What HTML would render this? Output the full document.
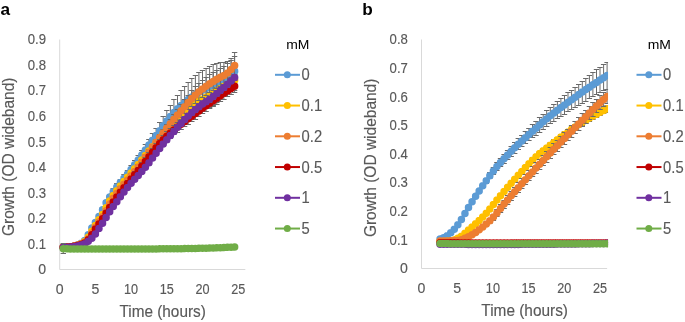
<!DOCTYPE html><html><head><meta charset="utf-8"><style>html,body{margin:0;padding:0;background:#fff;overflow:hidden}svg{display:block;will-change:transform}</style></head><body><svg width="685" height="322" viewBox="0 0 685 322">
<style>text{font-family:"Liberation Sans",sans-serif}.tk{font-size:14.1px;fill:#595959;stroke:#595959;stroke-width:0.15px}.lg{font-size:16.4px;fill:#595959;stroke:#595959;stroke-width:0.15px}.mm{font-size:12.2px;fill:#000}.tt{font-size:15.9px;fill:#595959;stroke:#595959;stroke-width:0.15px}.pl{font-size:17.2px;font-weight:bold;fill:#000}</style>
<rect width="685" height="322" fill="#fff"/>
<text x="0.6" y="14.9" class="pl">a</text>
<text x="362.2" y="14.9" class="pl">b</text>
<line x1="59.7" y1="39.5" x2="59.7" y2="269.5" stroke="#d9d9d9" stroke-width="1"/>
<line x1="59.7" y1="269.5" x2="245.33999999999997" y2="269.5" stroke="#d9d9d9" stroke-width="1"/>
<text x="46.1" y="274.30" text-anchor="end" class="tk">0</text>
<text x="46.1" y="248.74" text-anchor="end" class="tk" textLength="18.3" lengthAdjust="spacingAndGlyphs">0.1</text>
<text x="46.1" y="223.19" text-anchor="end" class="tk" textLength="18.3" lengthAdjust="spacingAndGlyphs">0.2</text>
<text x="46.1" y="197.63" text-anchor="end" class="tk" textLength="18.3" lengthAdjust="spacingAndGlyphs">0.3</text>
<text x="46.1" y="172.08" text-anchor="end" class="tk" textLength="18.3" lengthAdjust="spacingAndGlyphs">0.4</text>
<text x="46.1" y="146.52" text-anchor="end" class="tk" textLength="18.3" lengthAdjust="spacingAndGlyphs">0.5</text>
<text x="46.1" y="120.97" text-anchor="end" class="tk" textLength="18.3" lengthAdjust="spacingAndGlyphs">0.6</text>
<text x="46.1" y="95.41" text-anchor="end" class="tk" textLength="18.3" lengthAdjust="spacingAndGlyphs">0.7</text>
<text x="46.1" y="69.86" text-anchor="end" class="tk" textLength="18.3" lengthAdjust="spacingAndGlyphs">0.8</text>
<text x="46.1" y="44.30" text-anchor="end" class="tk" textLength="18.3" lengthAdjust="spacingAndGlyphs">0.9</text>
<text x="59.70" y="293.50" text-anchor="middle" class="tk">0</text>
<text x="95.40" y="293.50" text-anchor="middle" class="tk">5</text>
<text x="131.10" y="293.50" text-anchor="middle" class="tk" textLength="14.1" lengthAdjust="spacingAndGlyphs">10</text>
<text x="166.80" y="293.50" text-anchor="middle" class="tk" textLength="14.1" lengthAdjust="spacingAndGlyphs">15</text>
<text x="202.50" y="293.50" text-anchor="middle" class="tk" textLength="14.1" lengthAdjust="spacingAndGlyphs">20</text>
<text x="238.20" y="293.50" text-anchor="middle" class="tk" textLength="14.1" lengthAdjust="spacingAndGlyphs">25</text>
<clipPath id="c59"><rect x="49.7" y="0" width="196.54" height="300"/></clipPath>
<g clip-path="url(#c59)">
<path d="M63.3 246.5V248.5M60.6 246.5h5.4M60.6 248.5h5.4M66.8 246.5V248.5M64.1 246.5h5.4M64.1 248.5h5.4M70.4 245.5V247.5M67.7 245.5h5.4M67.7 247.5h5.4M74.0 244.5V247.5M71.3 244.5h5.4M71.3 247.5h5.4M77.5 243.5V246.5M74.8 243.5h5.4M74.8 246.5h5.4M81.1 241.5V244.5M78.4 241.5h5.4M78.4 244.5h5.4M84.7 238.5V242.5M82.0 238.5h5.4M82.0 242.5h5.4M88.3 233.5V236.5M85.6 233.5h5.4M85.6 236.5h5.4M91.8 226.5V229.5M89.1 226.5h5.4M89.1 229.5h5.4M95.4 220.5V224.5M92.7 220.5h5.4M92.7 224.5h5.4M99.0 214.5V218.5M96.3 214.5h5.4M96.3 218.5h5.4M102.5 207.5V212.5M99.8 207.5h5.4M99.8 212.5h5.4M106.1 200.5V205.5M103.4 200.5h5.4M103.4 205.5h5.4M109.7 194.5V199.5M107.0 194.5h5.4M107.0 199.5h5.4M113.2 188.5V194.5M110.5 188.5h5.4M110.5 194.5h5.4M116.8 183.5V190.5M114.1 183.5h5.4M114.1 190.5h5.4M120.4 179.5V185.5M117.7 179.5h5.4M117.7 185.5h5.4M124.0 174.5V181.5M121.3 174.5h5.4M121.3 181.5h5.4M127.5 170.5V177.5M124.8 170.5h5.4M124.8 177.5h5.4M131.1 165.5V173.5M128.4 165.5h5.4M128.4 173.5h5.4M134.7 160.5V169.5M132.0 160.5h5.4M132.0 169.5h5.4M138.2 155.5V164.5M135.5 155.5h5.4M135.5 164.5h5.4M141.8 150.5V160.5M139.1 150.5h5.4M139.1 160.5h5.4M145.4 144.5V155.5M142.7 144.5h5.4M142.7 155.5h5.4M148.9 139.5V150.5M146.2 139.5h5.4M146.2 150.5h5.4M152.5 133.5V146.5M149.8 133.5h5.4M149.8 146.5h5.4M156.1 128.5V142.5M153.4 128.5h5.4M153.4 142.5h5.4M159.7 122.5V138.5M157.0 122.5h5.4M157.0 138.5h5.4M163.2 116.5V134.5M160.5 116.5h5.4M160.5 134.5h5.4M166.8 110.5V131.5M164.1 110.5h5.4M164.1 131.5h5.4M170.4 105.5V127.5M167.7 105.5h5.4M167.7 127.5h5.4M173.9 99.5V124.5M171.2 99.5h5.4M171.2 124.5h5.4M177.5 95.5V122.5M174.8 95.5h5.4M174.8 122.5h5.4M181.1 90.5V120.5M178.4 90.5h5.4M178.4 120.5h5.4M184.6 86.5V118.5M181.9 86.5h5.4M181.9 118.5h5.4M188.2 82.5V116.5M185.5 82.5h5.4M185.5 116.5h5.4M191.8 78.5V115.5M189.1 78.5h5.4M189.1 115.5h5.4M195.4 75.5V113.5M192.7 75.5h5.4M192.7 113.5h5.4M198.9 72.5V111.5M196.2 72.5h5.4M196.2 111.5h5.4M202.5 70.5V110.5M199.8 70.5h5.4M199.8 110.5h5.4M206.1 68.5V108.5M203.4 68.5h5.4M203.4 108.5h5.4M209.6 66.5V107.5M206.9 66.5h5.4M206.9 107.5h5.4M213.2 64.5V105.5M210.5 64.5h5.4M210.5 105.5h5.4M216.8 63.5V102.5M214.1 63.5h5.4M214.1 102.5h5.4M220.4 62.5V99.5M217.7 62.5h5.4M217.7 99.5h5.4M223.9 62.5V94.5M221.2 62.5h5.4M221.2 94.5h5.4M227.5 61.5V91.5M224.8 61.5h5.4M224.8 91.5h5.4M231.1 58.5V88.5M228.4 58.5h5.4M228.4 88.5h5.4M234.6 52.5V90.5M231.9 52.5h5.4M231.9 90.5h5.4" stroke="#6a6a6a" stroke-width="1" fill="none"/>
<path d="M63.3 247.3 L66.8 247.1 L70.4 246.8 L74.0 246.1 L77.5 245.0 L81.1 243.3 L84.7 240.4 L88.3 234.8 L91.8 228.1 L95.4 222.4 L99.0 216.6 L102.5 209.8 L106.1 202.8 L109.7 197.0 L113.2 191.9 L116.8 187.0 L120.4 182.4 L124.0 178.2 L127.5 174.0 L131.1 169.5 L134.7 164.8 L138.2 160.0 L141.8 155.0 L145.4 150.0 L148.9 145.1 L152.5 140.3 L156.1 135.5 L159.7 130.6 L163.2 125.7 L166.8 121.0 L170.4 116.5 L173.9 112.4 L177.5 108.8 L181.1 105.5 L184.6 102.4 L188.2 99.5 L191.8 96.9 L195.4 94.4 L198.9 92.2 L202.5 90.3 L206.1 88.4 L209.6 86.6 L213.2 84.8 L216.8 83.0 L220.4 80.9 L223.9 78.6 L227.5 76.3 L231.1 73.8 L234.6 71.2" stroke="#5b9bd5" stroke-width="2.2" fill="none"/>
<path d="M59.52 247.27a3.75 3.75 0 1 0 7.5 0a3.75 3.75 0 1 0 -7.5 0M63.09 247.11a3.75 3.75 0 1 0 7.5 0a3.75 3.75 0 1 0 -7.5 0M66.66 246.76a3.75 3.75 0 1 0 7.5 0a3.75 3.75 0 1 0 -7.5 0M70.23 246.07a3.75 3.75 0 1 0 7.5 0a3.75 3.75 0 1 0 -7.5 0M73.80 244.97a3.75 3.75 0 1 0 7.5 0a3.75 3.75 0 1 0 -7.5 0M77.37 243.33a3.75 3.75 0 1 0 7.5 0a3.75 3.75 0 1 0 -7.5 0M80.94 240.38a3.75 3.75 0 1 0 7.5 0a3.75 3.75 0 1 0 -7.5 0M84.51 234.81a3.75 3.75 0 1 0 7.5 0a3.75 3.75 0 1 0 -7.5 0M88.08 228.08a3.75 3.75 0 1 0 7.5 0a3.75 3.75 0 1 0 -7.5 0M91.65 222.38a3.75 3.75 0 1 0 7.5 0a3.75 3.75 0 1 0 -7.5 0M95.22 216.56a3.75 3.75 0 1 0 7.5 0a3.75 3.75 0 1 0 -7.5 0M98.79 209.79a3.75 3.75 0 1 0 7.5 0a3.75 3.75 0 1 0 -7.5 0M102.36 202.76a3.75 3.75 0 1 0 7.5 0a3.75 3.75 0 1 0 -7.5 0M105.93 197.00a3.75 3.75 0 1 0 7.5 0a3.75 3.75 0 1 0 -7.5 0M109.50 191.85a3.75 3.75 0 1 0 7.5 0a3.75 3.75 0 1 0 -7.5 0M113.07 187.05a3.75 3.75 0 1 0 7.5 0a3.75 3.75 0 1 0 -7.5 0M116.64 182.44a3.75 3.75 0 1 0 7.5 0a3.75 3.75 0 1 0 -7.5 0M120.21 178.15a3.75 3.75 0 1 0 7.5 0a3.75 3.75 0 1 0 -7.5 0M123.78 173.95a3.75 3.75 0 1 0 7.5 0a3.75 3.75 0 1 0 -7.5 0M127.35 169.54a3.75 3.75 0 1 0 7.5 0a3.75 3.75 0 1 0 -7.5 0M130.92 164.85a3.75 3.75 0 1 0 7.5 0a3.75 3.75 0 1 0 -7.5 0M134.49 159.98a3.75 3.75 0 1 0 7.5 0a3.75 3.75 0 1 0 -7.5 0M138.06 155.03a3.75 3.75 0 1 0 7.5 0a3.75 3.75 0 1 0 -7.5 0M141.63 150.05a3.75 3.75 0 1 0 7.5 0a3.75 3.75 0 1 0 -7.5 0M145.20 145.12a3.75 3.75 0 1 0 7.5 0a3.75 3.75 0 1 0 -7.5 0M148.77 140.31a3.75 3.75 0 1 0 7.5 0a3.75 3.75 0 1 0 -7.5 0M152.34 135.52a3.75 3.75 0 1 0 7.5 0a3.75 3.75 0 1 0 -7.5 0M155.91 130.63a3.75 3.75 0 1 0 7.5 0a3.75 3.75 0 1 0 -7.5 0M159.48 125.74a3.75 3.75 0 1 0 7.5 0a3.75 3.75 0 1 0 -7.5 0M163.05 121.00a3.75 3.75 0 1 0 7.5 0a3.75 3.75 0 1 0 -7.5 0M166.62 116.51a3.75 3.75 0 1 0 7.5 0a3.75 3.75 0 1 0 -7.5 0M170.19 112.40a3.75 3.75 0 1 0 7.5 0a3.75 3.75 0 1 0 -7.5 0M173.76 108.78a3.75 3.75 0 1 0 7.5 0a3.75 3.75 0 1 0 -7.5 0M177.33 105.47a3.75 3.75 0 1 0 7.5 0a3.75 3.75 0 1 0 -7.5 0M180.90 102.39a3.75 3.75 0 1 0 7.5 0a3.75 3.75 0 1 0 -7.5 0M184.47 99.53a3.75 3.75 0 1 0 7.5 0a3.75 3.75 0 1 0 -7.5 0M188.04 96.89a3.75 3.75 0 1 0 7.5 0a3.75 3.75 0 1 0 -7.5 0M191.61 94.44a3.75 3.75 0 1 0 7.5 0a3.75 3.75 0 1 0 -7.5 0M195.18 92.24a3.75 3.75 0 1 0 7.5 0a3.75 3.75 0 1 0 -7.5 0M198.75 90.25a3.75 3.75 0 1 0 7.5 0a3.75 3.75 0 1 0 -7.5 0M202.32 88.42a3.75 3.75 0 1 0 7.5 0a3.75 3.75 0 1 0 -7.5 0M205.89 86.64a3.75 3.75 0 1 0 7.5 0a3.75 3.75 0 1 0 -7.5 0M209.46 84.85a3.75 3.75 0 1 0 7.5 0a3.75 3.75 0 1 0 -7.5 0M213.03 82.96a3.75 3.75 0 1 0 7.5 0a3.75 3.75 0 1 0 -7.5 0M216.60 80.90a3.75 3.75 0 1 0 7.5 0a3.75 3.75 0 1 0 -7.5 0M220.17 78.65a3.75 3.75 0 1 0 7.5 0a3.75 3.75 0 1 0 -7.5 0M223.74 76.26a3.75 3.75 0 1 0 7.5 0a3.75 3.75 0 1 0 -7.5 0M227.31 73.76a3.75 3.75 0 1 0 7.5 0a3.75 3.75 0 1 0 -7.5 0M230.88 71.19a3.75 3.75 0 1 0 7.5 0a3.75 3.75 0 1 0 -7.5 0" fill="#5b9bd5"/>
<path d="M63.3 246.5V248.5M60.6 246.5h5.4M60.6 248.5h5.4M66.8 246.5V248.5M64.1 246.5h5.4M64.1 248.5h5.4M70.4 245.5V247.5M67.7 245.5h5.4M67.7 247.5h5.4M74.0 244.5V247.5M71.3 244.5h5.4M71.3 247.5h5.4M77.5 243.5V246.5M74.8 243.5h5.4M74.8 246.5h5.4M81.1 242.5V245.5M78.4 242.5h5.4M78.4 245.5h5.4M84.7 240.5V242.5M82.0 240.5h5.4M82.0 242.5h5.4M88.3 235.5V238.5M85.6 235.5h5.4M85.6 238.5h5.4M91.8 229.5V232.5M89.1 229.5h5.4M89.1 232.5h5.4M95.4 223.5V226.5M92.7 223.5h5.4M92.7 226.5h5.4M99.0 218.5V221.5M96.3 218.5h5.4M96.3 221.5h5.4M102.5 212.5V216.5M99.8 212.5h5.4M99.8 216.5h5.4M106.1 206.5V209.5M103.4 206.5h5.4M103.4 209.5h5.4M109.7 199.5V202.5M107.0 199.5h5.4M107.0 202.5h5.4M113.2 193.5V197.5M110.5 193.5h5.4M110.5 197.5h5.4M116.8 188.5V192.5M114.1 188.5h5.4M114.1 192.5h5.4M120.4 184.5V187.5M117.7 184.5h5.4M117.7 187.5h5.4M124.0 179.5V183.5M121.3 179.5h5.4M121.3 183.5h5.4M127.5 175.5V179.5M124.8 175.5h5.4M124.8 179.5h5.4M131.1 171.5V175.5M128.4 171.5h5.4M128.4 175.5h5.4M134.7 166.5V170.5M132.0 166.5h5.4M132.0 170.5h5.4M138.2 162.5V166.5M135.5 162.5h5.4M135.5 166.5h5.4M141.8 157.5V162.5M139.1 157.5h5.4M139.1 162.5h5.4M145.4 153.5V157.5M142.7 153.5h5.4M142.7 157.5h5.4M148.9 148.5V153.5M146.2 148.5h5.4M146.2 153.5h5.4M152.5 144.5V149.5M149.8 144.5h5.4M149.8 149.5h5.4M156.1 140.5V144.5M153.4 140.5h5.4M153.4 144.5h5.4M159.7 135.5V140.5M157.0 135.5h5.4M157.0 140.5h5.4M163.2 131.5V136.5M160.5 131.5h5.4M160.5 136.5h5.4M166.8 127.5V132.5M164.1 127.5h5.4M164.1 132.5h5.4M170.4 122.5V127.5M167.7 122.5h5.4M167.7 127.5h5.4M173.9 118.5V123.5M171.2 118.5h5.4M171.2 123.5h5.4M177.5 114.5V119.5M174.8 114.5h5.4M174.8 119.5h5.4M181.1 111.5V116.5M178.4 111.5h5.4M178.4 116.5h5.4M184.6 107.5V113.5M181.9 107.5h5.4M181.9 113.5h5.4M188.2 105.5V110.5M185.5 105.5h5.4M185.5 110.5h5.4M191.8 102.5V108.5M189.1 102.5h5.4M189.1 108.5h5.4M195.4 100.5V106.5M192.7 100.5h5.4M192.7 106.5h5.4M198.9 98.5V104.5M196.2 98.5h5.4M196.2 104.5h5.4M202.5 96.5V102.5M199.8 96.5h5.4M199.8 102.5h5.4M206.1 94.5V100.5M203.4 94.5h5.4M203.4 100.5h5.4M209.6 92.5V98.5M206.9 92.5h5.4M206.9 98.5h5.4M213.2 90.5V95.5M210.5 90.5h5.4M210.5 95.5h5.4M216.8 87.5V93.5M214.1 87.5h5.4M214.1 93.5h5.4M220.4 85.5V91.5M217.7 85.5h5.4M217.7 91.5h5.4M223.9 83.5V89.5M221.2 83.5h5.4M221.2 89.5h5.4M227.5 81.5V87.5M224.8 81.5h5.4M224.8 87.5h5.4M231.1 79.5V85.5M228.4 79.5h5.4M228.4 85.5h5.4M234.6 77.5V83.5M231.9 77.5h5.4M231.9 83.5h5.4" stroke="#6a6a6a" stroke-width="1" fill="none"/>
<path d="M63.3 247.3 L66.8 247.1 L70.4 246.8 L74.0 246.2 L77.5 245.2 L81.1 243.9 L84.7 241.5 L88.3 237.3 L91.8 231.2 L95.4 225.4 L99.0 219.9 L102.5 214.6 L106.1 207.8 L109.7 201.0 L113.2 195.6 L116.8 190.7 L120.4 186.1 L124.0 181.6 L127.5 177.3 L131.1 173.1 L134.7 168.8 L138.2 164.4 L141.8 160.0 L145.4 155.5 L148.9 151.1 L152.5 146.7 L156.1 142.5 L159.7 138.3 L163.2 133.9 L166.8 129.6 L170.4 125.3 L173.9 121.1 L177.5 117.2 L181.1 113.6 L184.6 110.5 L188.2 107.9 L191.8 105.5 L195.4 103.3 L198.9 101.3 L202.5 99.3 L206.1 97.3 L209.6 95.2 L213.2 93.0 L216.8 90.9 L220.4 88.7 L223.9 86.6 L227.5 84.4 L231.1 82.3 L234.6 80.1" stroke="#ffc000" stroke-width="2.2" fill="none"/>
<path d="M59.52 247.27a3.75 3.75 0 1 0 7.5 0a3.75 3.75 0 1 0 -7.5 0M63.09 247.11a3.75 3.75 0 1 0 7.5 0a3.75 3.75 0 1 0 -7.5 0M66.66 246.76a3.75 3.75 0 1 0 7.5 0a3.75 3.75 0 1 0 -7.5 0M70.23 246.16a3.75 3.75 0 1 0 7.5 0a3.75 3.75 0 1 0 -7.5 0M73.80 245.22a3.75 3.75 0 1 0 7.5 0a3.75 3.75 0 1 0 -7.5 0M77.37 243.86a3.75 3.75 0 1 0 7.5 0a3.75 3.75 0 1 0 -7.5 0M80.94 241.54a3.75 3.75 0 1 0 7.5 0a3.75 3.75 0 1 0 -7.5 0M84.51 237.35a3.75 3.75 0 1 0 7.5 0a3.75 3.75 0 1 0 -7.5 0M88.08 231.22a3.75 3.75 0 1 0 7.5 0a3.75 3.75 0 1 0 -7.5 0M91.65 225.42a3.75 3.75 0 1 0 7.5 0a3.75 3.75 0 1 0 -7.5 0M95.22 219.87a3.75 3.75 0 1 0 7.5 0a3.75 3.75 0 1 0 -7.5 0M98.79 214.56a3.75 3.75 0 1 0 7.5 0a3.75 3.75 0 1 0 -7.5 0M102.36 207.76a3.75 3.75 0 1 0 7.5 0a3.75 3.75 0 1 0 -7.5 0M105.93 201.01a3.75 3.75 0 1 0 7.5 0a3.75 3.75 0 1 0 -7.5 0M109.50 195.59a3.75 3.75 0 1 0 7.5 0a3.75 3.75 0 1 0 -7.5 0M113.07 190.71a3.75 3.75 0 1 0 7.5 0a3.75 3.75 0 1 0 -7.5 0M116.64 186.09a3.75 3.75 0 1 0 7.5 0a3.75 3.75 0 1 0 -7.5 0M120.21 181.58a3.75 3.75 0 1 0 7.5 0a3.75 3.75 0 1 0 -7.5 0M123.78 177.30a3.75 3.75 0 1 0 7.5 0a3.75 3.75 0 1 0 -7.5 0M127.35 173.08a3.75 3.75 0 1 0 7.5 0a3.75 3.75 0 1 0 -7.5 0M130.92 168.78a3.75 3.75 0 1 0 7.5 0a3.75 3.75 0 1 0 -7.5 0M134.49 164.40a3.75 3.75 0 1 0 7.5 0a3.75 3.75 0 1 0 -7.5 0M138.06 159.97a3.75 3.75 0 1 0 7.5 0a3.75 3.75 0 1 0 -7.5 0M141.63 155.53a3.75 3.75 0 1 0 7.5 0a3.75 3.75 0 1 0 -7.5 0M145.20 151.11a3.75 3.75 0 1 0 7.5 0a3.75 3.75 0 1 0 -7.5 0M148.77 146.74a3.75 3.75 0 1 0 7.5 0a3.75 3.75 0 1 0 -7.5 0M152.34 142.45a3.75 3.75 0 1 0 7.5 0a3.75 3.75 0 1 0 -7.5 0M155.91 138.25a3.75 3.75 0 1 0 7.5 0a3.75 3.75 0 1 0 -7.5 0M159.48 133.95a3.75 3.75 0 1 0 7.5 0a3.75 3.75 0 1 0 -7.5 0M163.05 129.58a3.75 3.75 0 1 0 7.5 0a3.75 3.75 0 1 0 -7.5 0M166.62 125.26a3.75 3.75 0 1 0 7.5 0a3.75 3.75 0 1 0 -7.5 0M170.19 121.09a3.75 3.75 0 1 0 7.5 0a3.75 3.75 0 1 0 -7.5 0M173.76 117.18a3.75 3.75 0 1 0 7.5 0a3.75 3.75 0 1 0 -7.5 0M177.33 113.63a3.75 3.75 0 1 0 7.5 0a3.75 3.75 0 1 0 -7.5 0M180.90 110.54a3.75 3.75 0 1 0 7.5 0a3.75 3.75 0 1 0 -7.5 0M184.47 107.89a3.75 3.75 0 1 0 7.5 0a3.75 3.75 0 1 0 -7.5 0M188.04 105.52a3.75 3.75 0 1 0 7.5 0a3.75 3.75 0 1 0 -7.5 0M191.61 103.35a3.75 3.75 0 1 0 7.5 0a3.75 3.75 0 1 0 -7.5 0M195.18 101.30a3.75 3.75 0 1 0 7.5 0a3.75 3.75 0 1 0 -7.5 0M198.75 99.32a3.75 3.75 0 1 0 7.5 0a3.75 3.75 0 1 0 -7.5 0M202.32 97.31a3.75 3.75 0 1 0 7.5 0a3.75 3.75 0 1 0 -7.5 0M205.89 95.21a3.75 3.75 0 1 0 7.5 0a3.75 3.75 0 1 0 -7.5 0M209.46 93.04a3.75 3.75 0 1 0 7.5 0a3.75 3.75 0 1 0 -7.5 0M213.03 90.88a3.75 3.75 0 1 0 7.5 0a3.75 3.75 0 1 0 -7.5 0M216.60 88.72a3.75 3.75 0 1 0 7.5 0a3.75 3.75 0 1 0 -7.5 0M220.17 86.56a3.75 3.75 0 1 0 7.5 0a3.75 3.75 0 1 0 -7.5 0M223.74 84.42a3.75 3.75 0 1 0 7.5 0a3.75 3.75 0 1 0 -7.5 0M227.31 82.27a3.75 3.75 0 1 0 7.5 0a3.75 3.75 0 1 0 -7.5 0M230.88 80.13a3.75 3.75 0 1 0 7.5 0a3.75 3.75 0 1 0 -7.5 0" fill="#ffc000"/>
<path d="M63.3 246.5V248.5M60.6 246.5h5.4M60.6 248.5h5.4M66.8 246.5V248.5M64.1 246.5h5.4M64.1 248.5h5.4M70.4 245.5V247.5M67.7 245.5h5.4M67.7 247.5h5.4M74.0 245.5V247.5M71.3 245.5h5.4M71.3 247.5h5.4M77.5 244.5V246.5M74.8 244.5h5.4M74.8 246.5h5.4M81.1 242.5V245.5M78.4 242.5h5.4M78.4 245.5h5.4M84.7 241.5V243.5M82.0 241.5h5.4M82.0 243.5h5.4M88.3 237.5V240.5M85.6 237.5h5.4M85.6 240.5h5.4M91.8 231.5V234.5M89.1 231.5h5.4M89.1 234.5h5.4M95.4 225.5V228.5M92.7 225.5h5.4M92.7 228.5h5.4M99.0 220.5V223.5M96.3 220.5h5.4M96.3 223.5h5.4M102.5 215.5V218.5M99.8 215.5h5.4M99.8 218.5h5.4M106.1 209.5V212.5M103.4 209.5h5.4M103.4 212.5h5.4M109.7 202.5V205.5M107.0 202.5h5.4M107.0 205.5h5.4M113.2 196.5V199.5M110.5 196.5h5.4M110.5 199.5h5.4M116.8 191.5V195.5M114.1 191.5h5.4M114.1 195.5h5.4M120.4 186.5V190.5M117.7 186.5h5.4M117.7 190.5h5.4M124.0 182.5V186.5M121.3 182.5h5.4M121.3 186.5h5.4M127.5 178.5V181.5M124.8 178.5h5.4M124.8 181.5h5.4M131.1 173.5V177.5M128.4 173.5h5.4M128.4 177.5h5.4M134.7 169.5V173.5M132.0 169.5h5.4M132.0 173.5h5.4M138.2 164.5V169.5M135.5 164.5h5.4M135.5 169.5h5.4M141.8 159.5V164.5M139.1 159.5h5.4M139.1 164.5h5.4M145.4 154.5V159.5M142.7 154.5h5.4M142.7 159.5h5.4M148.9 149.5V154.5M146.2 149.5h5.4M146.2 154.5h5.4M152.5 144.5V149.5M149.8 144.5h5.4M149.8 149.5h5.4M156.1 139.5V145.5M153.4 139.5h5.4M153.4 145.5h5.4M159.7 134.5V140.5M157.0 134.5h5.4M157.0 140.5h5.4M163.2 129.5V136.5M160.5 129.5h5.4M160.5 136.5h5.4M166.8 124.5V132.5M164.1 124.5h5.4M164.1 132.5h5.4M170.4 119.5V128.5M167.7 119.5h5.4M167.7 128.5h5.4M173.9 114.5V124.5M171.2 114.5h5.4M171.2 124.5h5.4M177.5 109.5V120.5M174.8 109.5h5.4M174.8 120.5h5.4M181.1 104.5V117.5M178.4 104.5h5.4M178.4 117.5h5.4M184.6 99.5V113.5M181.9 99.5h5.4M181.9 113.5h5.4M188.2 95.5V109.5M185.5 95.5h5.4M185.5 109.5h5.4M191.8 90.5V106.5M189.1 90.5h5.4M189.1 106.5h5.4M195.4 86.5V103.5M192.7 86.5h5.4M192.7 103.5h5.4M198.9 83.5V100.5M196.2 83.5h5.4M196.2 100.5h5.4M202.5 80.5V97.5M199.8 80.5h5.4M199.8 97.5h5.4M206.1 77.5V95.5M203.4 77.5h5.4M203.4 95.5h5.4M209.6 74.5V92.5M206.9 74.5h5.4M206.9 92.5h5.4M213.2 72.5V90.5M210.5 72.5h5.4M210.5 90.5h5.4M216.8 70.5V88.5M214.1 70.5h5.4M214.1 88.5h5.4M220.4 68.5V86.5M217.7 68.5h5.4M217.7 86.5h5.4M223.9 66.5V84.5M221.2 66.5h5.4M221.2 84.5h5.4M227.5 63.5V81.5M224.8 63.5h5.4M224.8 81.5h5.4M231.1 60.5V78.5M228.4 60.5h5.4M228.4 78.5h5.4M234.6 56.5V74.5M231.9 56.5h5.4M231.9 74.5h5.4" stroke="#6a6a6a" stroke-width="1" fill="none"/>
<path d="M63.3 247.3 L66.8 247.1 L70.4 246.8 L74.0 246.1 L77.5 245.2 L81.1 244.0 L84.7 242.2 L88.3 238.8 L91.8 233.1 L95.4 227.3 L99.0 222.0 L102.5 216.8 L106.1 210.8 L109.7 204.0 L113.2 198.3 L116.8 193.4 L120.4 188.8 L124.0 184.3 L127.5 180.0 L131.1 175.8 L134.7 171.5 L138.2 166.9 L141.8 162.1 L145.4 157.2 L148.9 152.2 L152.5 147.2 L156.1 142.3 L159.7 137.6 L163.2 133.0 L166.8 128.4 L170.4 123.8 L173.9 119.4 L177.5 115.0 L181.1 110.8 L184.6 106.6 L188.2 102.5 L191.8 98.6 L195.4 95.0 L198.9 91.8 L202.5 89.0 L206.1 86.3 L209.6 83.8 L213.2 81.4 L216.8 79.2 L220.4 77.3 L223.9 75.4 L227.5 72.9 L231.1 69.5 L234.6 65.6" stroke="#ed7d31" stroke-width="2.2" fill="none"/>
<path d="M59.52 247.27a3.75 3.75 0 1 0 7.5 0a3.75 3.75 0 1 0 -7.5 0M63.09 247.11a3.75 3.75 0 1 0 7.5 0a3.75 3.75 0 1 0 -7.5 0M66.66 246.76a3.75 3.75 0 1 0 7.5 0a3.75 3.75 0 1 0 -7.5 0M70.23 246.14a3.75 3.75 0 1 0 7.5 0a3.75 3.75 0 1 0 -7.5 0M73.80 245.22a3.75 3.75 0 1 0 7.5 0a3.75 3.75 0 1 0 -7.5 0M77.37 244.03a3.75 3.75 0 1 0 7.5 0a3.75 3.75 0 1 0 -7.5 0M80.94 242.22a3.75 3.75 0 1 0 7.5 0a3.75 3.75 0 1 0 -7.5 0M84.51 238.83a3.75 3.75 0 1 0 7.5 0a3.75 3.75 0 1 0 -7.5 0M88.08 233.09a3.75 3.75 0 1 0 7.5 0a3.75 3.75 0 1 0 -7.5 0M91.65 227.28a3.75 3.75 0 1 0 7.5 0a3.75 3.75 0 1 0 -7.5 0M95.22 222.01a3.75 3.75 0 1 0 7.5 0a3.75 3.75 0 1 0 -7.5 0M98.79 216.77a3.75 3.75 0 1 0 7.5 0a3.75 3.75 0 1 0 -7.5 0M102.36 210.78a3.75 3.75 0 1 0 7.5 0a3.75 3.75 0 1 0 -7.5 0M105.93 204.04a3.75 3.75 0 1 0 7.5 0a3.75 3.75 0 1 0 -7.5 0M109.50 198.32a3.75 3.75 0 1 0 7.5 0a3.75 3.75 0 1 0 -7.5 0M113.07 193.37a3.75 3.75 0 1 0 7.5 0a3.75 3.75 0 1 0 -7.5 0M116.64 188.77a3.75 3.75 0 1 0 7.5 0a3.75 3.75 0 1 0 -7.5 0M120.21 184.27a3.75 3.75 0 1 0 7.5 0a3.75 3.75 0 1 0 -7.5 0M123.78 179.97a3.75 3.75 0 1 0 7.5 0a3.75 3.75 0 1 0 -7.5 0M127.35 175.80a3.75 3.75 0 1 0 7.5 0a3.75 3.75 0 1 0 -7.5 0M130.92 171.52a3.75 3.75 0 1 0 7.5 0a3.75 3.75 0 1 0 -7.5 0M134.49 166.94a3.75 3.75 0 1 0 7.5 0a3.75 3.75 0 1 0 -7.5 0M138.06 162.13a3.75 3.75 0 1 0 7.5 0a3.75 3.75 0 1 0 -7.5 0M141.63 157.17a3.75 3.75 0 1 0 7.5 0a3.75 3.75 0 1 0 -7.5 0M145.20 152.16a3.75 3.75 0 1 0 7.5 0a3.75 3.75 0 1 0 -7.5 0M148.77 147.17a3.75 3.75 0 1 0 7.5 0a3.75 3.75 0 1 0 -7.5 0M152.34 142.30a3.75 3.75 0 1 0 7.5 0a3.75 3.75 0 1 0 -7.5 0M155.91 137.60a3.75 3.75 0 1 0 7.5 0a3.75 3.75 0 1 0 -7.5 0M159.48 132.95a3.75 3.75 0 1 0 7.5 0a3.75 3.75 0 1 0 -7.5 0M163.05 128.35a3.75 3.75 0 1 0 7.5 0a3.75 3.75 0 1 0 -7.5 0M166.62 123.81a3.75 3.75 0 1 0 7.5 0a3.75 3.75 0 1 0 -7.5 0M170.19 119.36a3.75 3.75 0 1 0 7.5 0a3.75 3.75 0 1 0 -7.5 0M173.76 115.01a3.75 3.75 0 1 0 7.5 0a3.75 3.75 0 1 0 -7.5 0M177.33 110.78a3.75 3.75 0 1 0 7.5 0a3.75 3.75 0 1 0 -7.5 0M180.90 106.63a3.75 3.75 0 1 0 7.5 0a3.75 3.75 0 1 0 -7.5 0M184.47 102.50a3.75 3.75 0 1 0 7.5 0a3.75 3.75 0 1 0 -7.5 0M188.04 98.57a3.75 3.75 0 1 0 7.5 0a3.75 3.75 0 1 0 -7.5 0M191.61 94.98a3.75 3.75 0 1 0 7.5 0a3.75 3.75 0 1 0 -7.5 0M195.18 91.83a3.75 3.75 0 1 0 7.5 0a3.75 3.75 0 1 0 -7.5 0M198.75 88.95a3.75 3.75 0 1 0 7.5 0a3.75 3.75 0 1 0 -7.5 0M202.32 86.28a3.75 3.75 0 1 0 7.5 0a3.75 3.75 0 1 0 -7.5 0M205.89 83.78a3.75 3.75 0 1 0 7.5 0a3.75 3.75 0 1 0 -7.5 0M209.46 81.41a3.75 3.75 0 1 0 7.5 0a3.75 3.75 0 1 0 -7.5 0M213.03 79.20a3.75 3.75 0 1 0 7.5 0a3.75 3.75 0 1 0 -7.5 0M216.60 77.34a3.75 3.75 0 1 0 7.5 0a3.75 3.75 0 1 0 -7.5 0M220.17 75.41a3.75 3.75 0 1 0 7.5 0a3.75 3.75 0 1 0 -7.5 0M223.74 72.89a3.75 3.75 0 1 0 7.5 0a3.75 3.75 0 1 0 -7.5 0M227.31 69.53a3.75 3.75 0 1 0 7.5 0a3.75 3.75 0 1 0 -7.5 0M230.88 65.57a3.75 3.75 0 1 0 7.5 0a3.75 3.75 0 1 0 -7.5 0" fill="#ed7d31"/>
<path d="M63.3 246.5V248.5M60.6 246.5h5.4M60.6 248.5h5.4M66.8 245.5V248.5M64.1 245.5h5.4M64.1 248.5h5.4M70.4 245.5V248.5M67.7 245.5h5.4M67.7 248.5h5.4M74.0 244.5V247.5M71.3 244.5h5.4M71.3 247.5h5.4M77.5 243.5V246.5M74.8 243.5h5.4M74.8 246.5h5.4M81.1 242.5V246.5M78.4 242.5h5.4M78.4 246.5h5.4M84.7 241.5V244.5M82.0 241.5h5.4M82.0 244.5h5.4M88.3 237.5V241.5M85.6 237.5h5.4M85.6 241.5h5.4M91.8 232.5V236.5M89.1 232.5h5.4M89.1 236.5h5.4M95.4 226.5V231.5M92.7 226.5h5.4M92.7 231.5h5.4M99.0 221.5V226.5M96.3 221.5h5.4M96.3 226.5h5.4M102.5 216.5V221.5M99.8 216.5h5.4M99.8 221.5h5.4M106.1 210.5V215.5M103.4 210.5h5.4M103.4 215.5h5.4M109.7 205.5V210.5M107.0 205.5h5.4M107.0 210.5h5.4M113.2 199.5V204.5M110.5 199.5h5.4M110.5 204.5h5.4M116.8 194.5V199.5M114.1 194.5h5.4M114.1 199.5h5.4M120.4 189.5V195.5M117.7 189.5h5.4M117.7 195.5h5.4M124.0 185.5V190.5M121.3 185.5h5.4M121.3 190.5h5.4M127.5 180.5V186.5M124.8 180.5h5.4M124.8 186.5h5.4M131.1 176.5V182.5M128.4 176.5h5.4M128.4 182.5h5.4M134.7 171.5V178.5M132.0 171.5h5.4M132.0 178.5h5.4M138.2 167.5V173.5M135.5 167.5h5.4M135.5 173.5h5.4M141.8 162.5V169.5M139.1 162.5h5.4M139.1 169.5h5.4M145.4 157.5V165.5M142.7 157.5h5.4M142.7 165.5h5.4M148.9 152.5V160.5M146.2 152.5h5.4M146.2 160.5h5.4M152.5 148.5V156.5M149.8 148.5h5.4M149.8 156.5h5.4M156.1 143.5V151.5M153.4 143.5h5.4M153.4 151.5h5.4M159.7 139.5V147.5M157.0 139.5h5.4M157.0 147.5h5.4M163.2 135.5V144.5M160.5 135.5h5.4M160.5 144.5h5.4M166.8 131.5V140.5M164.1 131.5h5.4M164.1 140.5h5.4M170.4 128.5V137.5M167.7 128.5h5.4M167.7 137.5h5.4M173.9 125.5V134.5M171.2 125.5h5.4M171.2 134.5h5.4M177.5 122.5V132.5M174.8 122.5h5.4M174.8 132.5h5.4M181.1 119.5V129.5M178.4 119.5h5.4M178.4 129.5h5.4M184.6 116.5V126.5M181.9 116.5h5.4M181.9 126.5h5.4M188.2 113.5V124.5M185.5 113.5h5.4M185.5 124.5h5.4M191.8 110.5V121.5M189.1 110.5h5.4M189.1 121.5h5.4M195.4 108.5V119.5M192.7 108.5h5.4M192.7 119.5h5.4M198.9 105.5V116.5M196.2 105.5h5.4M196.2 116.5h5.4M202.5 102.5V113.5M199.8 102.5h5.4M199.8 113.5h5.4M206.1 100.5V111.5M203.4 100.5h5.4M203.4 111.5h5.4M209.6 97.5V108.5M206.9 97.5h5.4M206.9 108.5h5.4M213.2 94.5V106.5M210.5 94.5h5.4M210.5 106.5h5.4M216.8 92.5V104.5M214.1 92.5h5.4M214.1 104.5h5.4M220.4 89.5V101.5M217.7 89.5h5.4M217.7 101.5h5.4M223.9 87.5V99.5M221.2 87.5h5.4M221.2 99.5h5.4M227.5 84.5V96.5M224.8 84.5h5.4M224.8 96.5h5.4M231.1 82.5V94.5M228.4 82.5h5.4M228.4 94.5h5.4M234.6 80.5V92.5M231.9 80.5h5.4M231.9 92.5h5.4" stroke="#6a6a6a" stroke-width="1" fill="none"/>
<path d="M63.3 247.3 L66.8 247.1 L70.4 246.8 L74.0 246.2 L77.5 245.5 L81.1 244.5 L84.7 242.9 L88.3 239.7 L91.8 234.6 L95.4 229.0 L99.0 224.0 L102.5 218.8 L106.1 213.3 L109.7 207.6 L113.2 202.1 L116.8 197.0 L120.4 192.4 L124.0 187.8 L127.5 183.4 L131.1 179.1 L134.7 174.9 L138.2 170.6 L141.8 166.2 L145.4 161.5 L148.9 156.8 L152.5 152.1 L156.1 147.7 L159.7 143.5 L163.2 139.7 L166.8 136.3 L170.4 133.1 L173.9 130.0 L177.5 127.1 L181.1 124.2 L184.6 121.5 L188.2 118.8 L191.8 116.2 L195.4 113.6 L198.9 111.0 L202.5 108.3 L206.1 105.7 L209.6 103.2 L213.2 100.6 L216.8 98.1 L220.4 95.7 L223.9 93.3 L227.5 90.9 L231.1 88.6 L234.6 86.3" stroke="#c00000" stroke-width="2.2" fill="none"/>
<path d="M59.52 247.27a3.75 3.75 0 1 0 7.5 0a3.75 3.75 0 1 0 -7.5 0M63.09 247.09a3.75 3.75 0 1 0 7.5 0a3.75 3.75 0 1 0 -7.5 0M66.66 246.76a3.75 3.75 0 1 0 7.5 0a3.75 3.75 0 1 0 -7.5 0M70.23 246.24a3.75 3.75 0 1 0 7.5 0a3.75 3.75 0 1 0 -7.5 0M73.80 245.48a3.75 3.75 0 1 0 7.5 0a3.75 3.75 0 1 0 -7.5 0M77.37 244.47a3.75 3.75 0 1 0 7.5 0a3.75 3.75 0 1 0 -7.5 0M80.94 242.92a3.75 3.75 0 1 0 7.5 0a3.75 3.75 0 1 0 -7.5 0M84.51 239.66a3.75 3.75 0 1 0 7.5 0a3.75 3.75 0 1 0 -7.5 0M88.08 234.65a3.75 3.75 0 1 0 7.5 0a3.75 3.75 0 1 0 -7.5 0M91.65 228.98a3.75 3.75 0 1 0 7.5 0a3.75 3.75 0 1 0 -7.5 0M95.22 224.00a3.75 3.75 0 1 0 7.5 0a3.75 3.75 0 1 0 -7.5 0M98.79 218.80a3.75 3.75 0 1 0 7.5 0a3.75 3.75 0 1 0 -7.5 0M102.36 213.28a3.75 3.75 0 1 0 7.5 0a3.75 3.75 0 1 0 -7.5 0M105.93 207.60a3.75 3.75 0 1 0 7.5 0a3.75 3.75 0 1 0 -7.5 0M109.50 202.05a3.75 3.75 0 1 0 7.5 0a3.75 3.75 0 1 0 -7.5 0M113.07 197.04a3.75 3.75 0 1 0 7.5 0a3.75 3.75 0 1 0 -7.5 0M116.64 192.36a3.75 3.75 0 1 0 7.5 0a3.75 3.75 0 1 0 -7.5 0M120.21 187.84a3.75 3.75 0 1 0 7.5 0a3.75 3.75 0 1 0 -7.5 0M123.78 183.40a3.75 3.75 0 1 0 7.5 0a3.75 3.75 0 1 0 -7.5 0M127.35 179.10a3.75 3.75 0 1 0 7.5 0a3.75 3.75 0 1 0 -7.5 0M130.92 174.87a3.75 3.75 0 1 0 7.5 0a3.75 3.75 0 1 0 -7.5 0M134.49 170.61a3.75 3.75 0 1 0 7.5 0a3.75 3.75 0 1 0 -7.5 0M138.06 166.16a3.75 3.75 0 1 0 7.5 0a3.75 3.75 0 1 0 -7.5 0M141.63 161.52a3.75 3.75 0 1 0 7.5 0a3.75 3.75 0 1 0 -7.5 0M145.20 156.80a3.75 3.75 0 1 0 7.5 0a3.75 3.75 0 1 0 -7.5 0M148.77 152.14a3.75 3.75 0 1 0 7.5 0a3.75 3.75 0 1 0 -7.5 0M152.34 147.66a3.75 3.75 0 1 0 7.5 0a3.75 3.75 0 1 0 -7.5 0M155.91 143.48a3.75 3.75 0 1 0 7.5 0a3.75 3.75 0 1 0 -7.5 0M159.48 139.72a3.75 3.75 0 1 0 7.5 0a3.75 3.75 0 1 0 -7.5 0M163.05 136.30a3.75 3.75 0 1 0 7.5 0a3.75 3.75 0 1 0 -7.5 0M166.62 133.07a3.75 3.75 0 1 0 7.5 0a3.75 3.75 0 1 0 -7.5 0M170.19 130.00a3.75 3.75 0 1 0 7.5 0a3.75 3.75 0 1 0 -7.5 0M173.76 127.07a3.75 3.75 0 1 0 7.5 0a3.75 3.75 0 1 0 -7.5 0M177.33 124.25a3.75 3.75 0 1 0 7.5 0a3.75 3.75 0 1 0 -7.5 0M180.90 121.52a3.75 3.75 0 1 0 7.5 0a3.75 3.75 0 1 0 -7.5 0M184.47 118.85a3.75 3.75 0 1 0 7.5 0a3.75 3.75 0 1 0 -7.5 0M188.04 116.22a3.75 3.75 0 1 0 7.5 0a3.75 3.75 0 1 0 -7.5 0M191.61 113.61a3.75 3.75 0 1 0 7.5 0a3.75 3.75 0 1 0 -7.5 0M195.18 110.98a3.75 3.75 0 1 0 7.5 0a3.75 3.75 0 1 0 -7.5 0M198.75 108.35a3.75 3.75 0 1 0 7.5 0a3.75 3.75 0 1 0 -7.5 0M202.32 105.74a3.75 3.75 0 1 0 7.5 0a3.75 3.75 0 1 0 -7.5 0M205.89 103.17a3.75 3.75 0 1 0 7.5 0a3.75 3.75 0 1 0 -7.5 0M209.46 100.63a3.75 3.75 0 1 0 7.5 0a3.75 3.75 0 1 0 -7.5 0M213.03 98.14a3.75 3.75 0 1 0 7.5 0a3.75 3.75 0 1 0 -7.5 0M216.60 95.68a3.75 3.75 0 1 0 7.5 0a3.75 3.75 0 1 0 -7.5 0M220.17 93.27a3.75 3.75 0 1 0 7.5 0a3.75 3.75 0 1 0 -7.5 0M223.74 90.89a3.75 3.75 0 1 0 7.5 0a3.75 3.75 0 1 0 -7.5 0M227.31 88.56a3.75 3.75 0 1 0 7.5 0a3.75 3.75 0 1 0 -7.5 0M230.88 86.27a3.75 3.75 0 1 0 7.5 0a3.75 3.75 0 1 0 -7.5 0" fill="#c00000"/>
<path d="M63.3 246.5V248.5M60.6 246.5h5.4M60.6 248.5h5.4M66.8 246.5V248.5M64.1 246.5h5.4M64.1 248.5h5.4M70.4 245.5V248.5M67.7 245.5h5.4M67.7 248.5h5.4M74.0 245.5V247.5M71.3 245.5h5.4M71.3 247.5h5.4M77.5 244.5V247.5M74.8 244.5h5.4M74.8 247.5h5.4M81.1 243.5V246.5M78.4 243.5h5.4M78.4 246.5h5.4M84.7 242.5V245.5M82.0 242.5h5.4M82.0 245.5h5.4M88.3 239.5V242.5M85.6 239.5h5.4M85.6 242.5h5.4M91.8 236.5V239.5M89.1 236.5h5.4M89.1 239.5h5.4M95.4 232.5V235.5M92.7 232.5h5.4M92.7 235.5h5.4M99.0 226.5V230.5M96.3 226.5h5.4M96.3 230.5h5.4M102.5 221.5V224.5M99.8 221.5h5.4M99.8 224.5h5.4M106.1 215.5V219.5M103.4 215.5h5.4M103.4 219.5h5.4M109.7 209.5V213.5M107.0 209.5h5.4M107.0 213.5h5.4M113.2 204.5V208.5M110.5 204.5h5.4M110.5 208.5h5.4M116.8 199.5V203.5M114.1 199.5h5.4M114.1 203.5h5.4M120.4 194.5V198.5M117.7 194.5h5.4M117.7 198.5h5.4M124.0 190.5V193.5M121.3 190.5h5.4M121.3 193.5h5.4M127.5 185.5V189.5M124.8 185.5h5.4M124.8 189.5h5.4M131.1 181.5V185.5M128.4 181.5h5.4M128.4 185.5h5.4M134.7 177.5V181.5M132.0 177.5h5.4M132.0 181.5h5.4M138.2 173.5V177.5M135.5 173.5h5.4M135.5 177.5h5.4M141.8 169.5V173.5M139.1 169.5h5.4M139.1 173.5h5.4M145.4 165.5V169.5M142.7 165.5h5.4M142.7 169.5h5.4M148.9 160.5V165.5M146.2 160.5h5.4M146.2 165.5h5.4M152.5 155.5V160.5M149.8 155.5h5.4M149.8 160.5h5.4M156.1 150.5V155.5M153.4 150.5h5.4M153.4 155.5h5.4M159.7 146.5V150.5M157.0 146.5h5.4M157.0 150.5h5.4M163.2 141.5V146.5M160.5 141.5h5.4M160.5 146.5h5.4M166.8 137.5V142.5M164.1 137.5h5.4M164.1 142.5h5.4M170.4 133.5V138.5M167.7 133.5h5.4M167.7 138.5h5.4M173.9 128.5V133.5M171.2 128.5h5.4M171.2 133.5h5.4M177.5 124.5V129.5M174.8 124.5h5.4M174.8 129.5h5.4M181.1 120.5V125.5M178.4 120.5h5.4M178.4 125.5h5.4M184.6 116.5V122.5M181.9 116.5h5.4M181.9 122.5h5.4M188.2 113.5V118.5M185.5 113.5h5.4M185.5 118.5h5.4M191.8 109.5V115.5M189.1 109.5h5.4M189.1 115.5h5.4M195.4 106.5V112.5M192.7 106.5h5.4M192.7 112.5h5.4M198.9 103.5V109.5M196.2 103.5h5.4M196.2 109.5h5.4M202.5 101.5V106.5M199.8 101.5h5.4M199.8 106.5h5.4M206.1 98.5V104.5M203.4 98.5h5.4M203.4 104.5h5.4M209.6 96.5V102.5M206.9 96.5h5.4M206.9 102.5h5.4M213.2 93.5V99.5M210.5 93.5h5.4M210.5 99.5h5.4M216.8 90.5V96.5M214.1 90.5h5.4M214.1 96.5h5.4M220.4 87.5V93.5M217.7 87.5h5.4M217.7 93.5h5.4M223.9 84.5V90.5M221.2 84.5h5.4M221.2 90.5h5.4M227.5 81.5V87.5M224.8 81.5h5.4M224.8 87.5h5.4M231.1 77.5V83.5M228.4 77.5h5.4M228.4 83.5h5.4M234.6 74.5V80.5M231.9 74.5h5.4M231.9 80.5h5.4" stroke="#6a6a6a" stroke-width="1" fill="none"/>
<path d="M63.3 247.5 L66.8 247.4 L70.4 247.1 L74.0 246.7 L77.5 246.1 L81.1 245.0 L84.7 243.7 L88.3 241.3 L91.8 238.2 L95.4 234.1 L99.0 228.5 L102.5 223.3 L106.1 217.5 L109.7 211.7 L113.2 206.6 L116.8 201.7 L120.4 196.8 L124.0 192.0 L127.5 187.4 L131.1 183.2 L134.7 179.3 L138.2 175.5 L141.8 171.6 L145.4 167.3 L148.9 162.8 L152.5 158.1 L156.1 153.3 L159.7 148.6 L163.2 144.0 L166.8 139.7 L170.4 135.5 L173.9 131.4 L177.5 127.3 L181.1 123.4 L184.6 119.6 L188.2 116.0 L191.8 112.6 L195.4 109.4 L198.9 106.6 L202.5 104.1 L206.1 101.7 L209.6 99.2 L213.2 96.5 L216.8 93.6 L220.4 90.5 L223.9 87.4 L227.5 84.2 L231.1 81.0 L234.6 77.6" stroke="#7030a0" stroke-width="2.2" fill="none"/>
<path d="M59.52 247.52a3.75 3.75 0 1 0 7.5 0a3.75 3.75 0 1 0 -7.5 0M63.09 247.36a3.75 3.75 0 1 0 7.5 0a3.75 3.75 0 1 0 -7.5 0M66.66 247.10a3.75 3.75 0 1 0 7.5 0a3.75 3.75 0 1 0 -7.5 0M70.23 246.69a3.75 3.75 0 1 0 7.5 0a3.75 3.75 0 1 0 -7.5 0M73.80 246.09a3.75 3.75 0 1 0 7.5 0a3.75 3.75 0 1 0 -7.5 0M77.37 244.97a3.75 3.75 0 1 0 7.5 0a3.75 3.75 0 1 0 -7.5 0M80.94 243.69a3.75 3.75 0 1 0 7.5 0a3.75 3.75 0 1 0 -7.5 0M84.51 241.35a3.75 3.75 0 1 0 7.5 0a3.75 3.75 0 1 0 -7.5 0M88.08 238.21a3.75 3.75 0 1 0 7.5 0a3.75 3.75 0 1 0 -7.5 0M91.65 234.06a3.75 3.75 0 1 0 7.5 0a3.75 3.75 0 1 0 -7.5 0M95.22 228.53a3.75 3.75 0 1 0 7.5 0a3.75 3.75 0 1 0 -7.5 0M98.79 223.28a3.75 3.75 0 1 0 7.5 0a3.75 3.75 0 1 0 -7.5 0M102.36 217.48a3.75 3.75 0 1 0 7.5 0a3.75 3.75 0 1 0 -7.5 0M105.93 211.74a3.75 3.75 0 1 0 7.5 0a3.75 3.75 0 1 0 -7.5 0M109.50 206.59a3.75 3.75 0 1 0 7.5 0a3.75 3.75 0 1 0 -7.5 0M113.07 201.69a3.75 3.75 0 1 0 7.5 0a3.75 3.75 0 1 0 -7.5 0M116.64 196.82a3.75 3.75 0 1 0 7.5 0a3.75 3.75 0 1 0 -7.5 0M120.21 192.02a3.75 3.75 0 1 0 7.5 0a3.75 3.75 0 1 0 -7.5 0M123.78 187.43a3.75 3.75 0 1 0 7.5 0a3.75 3.75 0 1 0 -7.5 0M127.35 183.18a3.75 3.75 0 1 0 7.5 0a3.75 3.75 0 1 0 -7.5 0M130.92 179.28a3.75 3.75 0 1 0 7.5 0a3.75 3.75 0 1 0 -7.5 0M134.49 175.49a3.75 3.75 0 1 0 7.5 0a3.75 3.75 0 1 0 -7.5 0M138.06 171.58a3.75 3.75 0 1 0 7.5 0a3.75 3.75 0 1 0 -7.5 0M141.63 167.33a3.75 3.75 0 1 0 7.5 0a3.75 3.75 0 1 0 -7.5 0M145.20 162.79a3.75 3.75 0 1 0 7.5 0a3.75 3.75 0 1 0 -7.5 0M148.77 158.08a3.75 3.75 0 1 0 7.5 0a3.75 3.75 0 1 0 -7.5 0M152.34 153.31a3.75 3.75 0 1 0 7.5 0a3.75 3.75 0 1 0 -7.5 0M155.91 148.58a3.75 3.75 0 1 0 7.5 0a3.75 3.75 0 1 0 -7.5 0M159.48 144.00a3.75 3.75 0 1 0 7.5 0a3.75 3.75 0 1 0 -7.5 0M163.05 139.68a3.75 3.75 0 1 0 7.5 0a3.75 3.75 0 1 0 -7.5 0M166.62 135.52a3.75 3.75 0 1 0 7.5 0a3.75 3.75 0 1 0 -7.5 0M170.19 131.39a3.75 3.75 0 1 0 7.5 0a3.75 3.75 0 1 0 -7.5 0M173.76 127.33a3.75 3.75 0 1 0 7.5 0a3.75 3.75 0 1 0 -7.5 0M177.33 123.38a3.75 3.75 0 1 0 7.5 0a3.75 3.75 0 1 0 -7.5 0M180.90 119.58a3.75 3.75 0 1 0 7.5 0a3.75 3.75 0 1 0 -7.5 0M184.47 115.96a3.75 3.75 0 1 0 7.5 0a3.75 3.75 0 1 0 -7.5 0M188.04 112.57a3.75 3.75 0 1 0 7.5 0a3.75 3.75 0 1 0 -7.5 0M191.61 109.43a3.75 3.75 0 1 0 7.5 0a3.75 3.75 0 1 0 -7.5 0M195.18 106.64a3.75 3.75 0 1 0 7.5 0a3.75 3.75 0 1 0 -7.5 0M198.75 104.09a3.75 3.75 0 1 0 7.5 0a3.75 3.75 0 1 0 -7.5 0M202.32 101.65a3.75 3.75 0 1 0 7.5 0a3.75 3.75 0 1 0 -7.5 0M205.89 99.17a3.75 3.75 0 1 0 7.5 0a3.75 3.75 0 1 0 -7.5 0M209.46 96.49a3.75 3.75 0 1 0 7.5 0a3.75 3.75 0 1 0 -7.5 0M213.03 93.58a3.75 3.75 0 1 0 7.5 0a3.75 3.75 0 1 0 -7.5 0M216.60 90.54a3.75 3.75 0 1 0 7.5 0a3.75 3.75 0 1 0 -7.5 0M220.17 87.41a3.75 3.75 0 1 0 7.5 0a3.75 3.75 0 1 0 -7.5 0M223.74 84.22a3.75 3.75 0 1 0 7.5 0a3.75 3.75 0 1 0 -7.5 0M227.31 80.95a3.75 3.75 0 1 0 7.5 0a3.75 3.75 0 1 0 -7.5 0M230.88 77.58a3.75 3.75 0 1 0 7.5 0a3.75 3.75 0 1 0 -7.5 0" fill="#7030a0"/>
<path d="M63.3 243.5V253.5M60.6 243.5h5.4M60.6 253.5h5.4M66.8 248.5V249.5M64.1 248.5h5.4M64.1 249.5h5.4M70.4 248.5V249.5M67.7 248.5h5.4M67.7 249.5h5.4M74.0 248.5V249.5M71.3 248.5h5.4M71.3 249.5h5.4M77.5 248.5V249.5M74.8 248.5h5.4M74.8 249.5h5.4M81.1 248.5V249.5M78.4 248.5h5.4M78.4 249.5h5.4M84.7 248.5V249.5M82.0 248.5h5.4M82.0 249.5h5.4M88.3 248.5V249.5M85.6 248.5h5.4M85.6 249.5h5.4M91.8 248.5V249.5M89.1 248.5h5.4M89.1 249.5h5.4M95.4 248.5V249.5M92.7 248.5h5.4M92.7 249.5h5.4M99.0 248.5V249.5M96.3 248.5h5.4M96.3 249.5h5.4M102.5 248.5V249.5M99.8 248.5h5.4M99.8 249.5h5.4M106.1 248.5V249.5M103.4 248.5h5.4M103.4 249.5h5.4M109.7 248.5V249.5M107.0 248.5h5.4M107.0 249.5h5.4M113.2 248.5V249.5M110.5 248.5h5.4M110.5 249.5h5.4M116.8 248.5V249.5M114.1 248.5h5.4M114.1 249.5h5.4M120.4 248.5V249.5M117.7 248.5h5.4M117.7 249.5h5.4M124.0 248.5V249.5M121.3 248.5h5.4M121.3 249.5h5.4M127.5 248.5V249.5M124.8 248.5h5.4M124.8 249.5h5.4M131.1 248.5V249.5M128.4 248.5h5.4M128.4 249.5h5.4M134.7 248.5V249.5M132.0 248.5h5.4M132.0 249.5h5.4M138.2 248.5V249.5M135.5 248.5h5.4M135.5 249.5h5.4M141.8 248.5V249.5M139.1 248.5h5.4M139.1 249.5h5.4M145.4 248.5V249.5M142.7 248.5h5.4M142.7 249.5h5.4M148.9 248.5V249.5M146.2 248.5h5.4M146.2 249.5h5.4M152.5 248.5V249.5M149.8 248.5h5.4M149.8 249.5h5.4M156.1 248.5V249.5M153.4 248.5h5.4M153.4 249.5h5.4M159.7 248.5V249.5M157.0 248.5h5.4M157.0 249.5h5.4M163.2 248.5V249.5M160.5 248.5h5.4M160.5 249.5h5.4M166.8 248.5V249.5M164.1 248.5h5.4M164.1 249.5h5.4M170.4 247.5V249.5M167.7 247.5h5.4M167.7 249.5h5.4M173.9 247.5V249.5M171.2 247.5h5.4M171.2 249.5h5.4M177.5 247.5V249.5M174.8 247.5h5.4M174.8 249.5h5.4M181.1 247.5V249.5M178.4 247.5h5.4M178.4 249.5h5.4M184.6 247.5V249.5M181.9 247.5h5.4M181.9 249.5h5.4M188.2 247.5V249.5M185.5 247.5h5.4M185.5 249.5h5.4M191.8 247.5V249.5M189.1 247.5h5.4M189.1 249.5h5.4M195.4 247.5V249.5M192.7 247.5h5.4M192.7 249.5h5.4M198.9 247.5V249.5M196.2 247.5h5.4M196.2 249.5h5.4M202.5 247.5V249.5M199.8 247.5h5.4M199.8 249.5h5.4M206.1 247.5V248.5M203.4 247.5h5.4M203.4 248.5h5.4M209.6 247.5V248.5M206.9 247.5h5.4M206.9 248.5h5.4M213.2 247.5V248.5M210.5 247.5h5.4M210.5 248.5h5.4M216.8 247.5V248.5M214.1 247.5h5.4M214.1 248.5h5.4M220.4 246.5V248.5M217.7 246.5h5.4M217.7 248.5h5.4M223.9 246.5V248.5M221.2 246.5h5.4M221.2 248.5h5.4M227.5 246.5V248.5M224.8 246.5h5.4M224.8 248.5h5.4M231.1 246.5V247.5M228.4 246.5h5.4M228.4 247.5h5.4M234.6 246.5V247.5M231.9 246.5h5.4M231.9 247.5h5.4" stroke="#6a6a6a" stroke-width="1" fill="none"/>
<path d="M63.3 248.8 L66.8 248.8 L70.4 248.9 L74.0 248.9 L77.5 249.0 L81.1 249.0 L84.7 249.0 L88.3 249.0 L91.8 249.1 L95.4 249.1 L99.0 249.1 L102.5 249.1 L106.1 249.1 L109.7 249.1 L113.2 249.1 L116.8 249.1 L120.4 249.1 L124.0 249.1 L127.5 249.1 L131.1 249.1 L134.7 249.1 L138.2 249.0 L141.8 249.0 L145.4 249.0 L148.9 249.0 L152.5 248.9 L156.1 248.9 L159.7 248.9 L163.2 248.8 L166.8 248.8 L170.4 248.8 L173.9 248.7 L177.5 248.7 L181.1 248.6 L184.6 248.6 L188.2 248.5 L191.8 248.5 L195.4 248.4 L198.9 248.4 L202.5 248.3 L206.1 248.2 L209.6 248.1 L213.2 248.0 L216.8 247.8 L220.4 247.7 L223.9 247.5 L227.5 247.4 L231.1 247.2 L234.6 247.0" stroke="#70ad47" stroke-width="2.2" fill="none"/>
<path d="M59.52 248.80a3.75 3.75 0 1 0 7.5 0a3.75 3.75 0 1 0 -7.5 0M63.09 248.84a3.75 3.75 0 1 0 7.5 0a3.75 3.75 0 1 0 -7.5 0M66.66 248.88a3.75 3.75 0 1 0 7.5 0a3.75 3.75 0 1 0 -7.5 0M70.23 248.92a3.75 3.75 0 1 0 7.5 0a3.75 3.75 0 1 0 -7.5 0M73.80 248.96a3.75 3.75 0 1 0 7.5 0a3.75 3.75 0 1 0 -7.5 0M77.37 248.99a3.75 3.75 0 1 0 7.5 0a3.75 3.75 0 1 0 -7.5 0M80.94 249.02a3.75 3.75 0 1 0 7.5 0a3.75 3.75 0 1 0 -7.5 0M84.51 249.04a3.75 3.75 0 1 0 7.5 0a3.75 3.75 0 1 0 -7.5 0M88.08 249.05a3.75 3.75 0 1 0 7.5 0a3.75 3.75 0 1 0 -7.5 0M91.65 249.06a3.75 3.75 0 1 0 7.5 0a3.75 3.75 0 1 0 -7.5 0M95.22 249.06a3.75 3.75 0 1 0 7.5 0a3.75 3.75 0 1 0 -7.5 0M98.79 249.06a3.75 3.75 0 1 0 7.5 0a3.75 3.75 0 1 0 -7.5 0M102.36 249.06a3.75 3.75 0 1 0 7.5 0a3.75 3.75 0 1 0 -7.5 0M105.93 249.06a3.75 3.75 0 1 0 7.5 0a3.75 3.75 0 1 0 -7.5 0M109.50 249.06a3.75 3.75 0 1 0 7.5 0a3.75 3.75 0 1 0 -7.5 0M113.07 249.06a3.75 3.75 0 1 0 7.5 0a3.75 3.75 0 1 0 -7.5 0M116.64 249.06a3.75 3.75 0 1 0 7.5 0a3.75 3.75 0 1 0 -7.5 0M120.21 249.06a3.75 3.75 0 1 0 7.5 0a3.75 3.75 0 1 0 -7.5 0M123.78 249.06a3.75 3.75 0 1 0 7.5 0a3.75 3.75 0 1 0 -7.5 0M127.35 249.06a3.75 3.75 0 1 0 7.5 0a3.75 3.75 0 1 0 -7.5 0M130.92 249.05a3.75 3.75 0 1 0 7.5 0a3.75 3.75 0 1 0 -7.5 0M134.49 249.04a3.75 3.75 0 1 0 7.5 0a3.75 3.75 0 1 0 -7.5 0M138.06 249.02a3.75 3.75 0 1 0 7.5 0a3.75 3.75 0 1 0 -7.5 0M141.63 249.00a3.75 3.75 0 1 0 7.5 0a3.75 3.75 0 1 0 -7.5 0M145.20 248.97a3.75 3.75 0 1 0 7.5 0a3.75 3.75 0 1 0 -7.5 0M148.77 248.94a3.75 3.75 0 1 0 7.5 0a3.75 3.75 0 1 0 -7.5 0M152.34 248.91a3.75 3.75 0 1 0 7.5 0a3.75 3.75 0 1 0 -7.5 0M155.91 248.87a3.75 3.75 0 1 0 7.5 0a3.75 3.75 0 1 0 -7.5 0M159.48 248.83a3.75 3.75 0 1 0 7.5 0a3.75 3.75 0 1 0 -7.5 0M163.05 248.80a3.75 3.75 0 1 0 7.5 0a3.75 3.75 0 1 0 -7.5 0M166.62 248.76a3.75 3.75 0 1 0 7.5 0a3.75 3.75 0 1 0 -7.5 0M170.19 248.73a3.75 3.75 0 1 0 7.5 0a3.75 3.75 0 1 0 -7.5 0M173.76 248.69a3.75 3.75 0 1 0 7.5 0a3.75 3.75 0 1 0 -7.5 0M177.33 248.64a3.75 3.75 0 1 0 7.5 0a3.75 3.75 0 1 0 -7.5 0M180.90 248.60a3.75 3.75 0 1 0 7.5 0a3.75 3.75 0 1 0 -7.5 0M184.47 248.55a3.75 3.75 0 1 0 7.5 0a3.75 3.75 0 1 0 -7.5 0M188.04 248.49a3.75 3.75 0 1 0 7.5 0a3.75 3.75 0 1 0 -7.5 0M191.61 248.43a3.75 3.75 0 1 0 7.5 0a3.75 3.75 0 1 0 -7.5 0M195.18 248.36a3.75 3.75 0 1 0 7.5 0a3.75 3.75 0 1 0 -7.5 0M198.75 248.29a3.75 3.75 0 1 0 7.5 0a3.75 3.75 0 1 0 -7.5 0M202.32 248.20a3.75 3.75 0 1 0 7.5 0a3.75 3.75 0 1 0 -7.5 0M205.89 248.10a3.75 3.75 0 1 0 7.5 0a3.75 3.75 0 1 0 -7.5 0M209.46 247.98a3.75 3.75 0 1 0 7.5 0a3.75 3.75 0 1 0 -7.5 0M213.03 247.85a3.75 3.75 0 1 0 7.5 0a3.75 3.75 0 1 0 -7.5 0M216.60 247.70a3.75 3.75 0 1 0 7.5 0a3.75 3.75 0 1 0 -7.5 0M220.17 247.54a3.75 3.75 0 1 0 7.5 0a3.75 3.75 0 1 0 -7.5 0M223.74 247.37a3.75 3.75 0 1 0 7.5 0a3.75 3.75 0 1 0 -7.5 0M227.31 247.19a3.75 3.75 0 1 0 7.5 0a3.75 3.75 0 1 0 -7.5 0M230.88 247.01a3.75 3.75 0 1 0 7.5 0a3.75 3.75 0 1 0 -7.5 0" fill="#70ad47"/>
</g>
<text x="286.2" y="49.2" class="mm" textLength="23.2" lengthAdjust="spacingAndGlyphs">mM</text>
<line x1="275" y1="74.80" x2="300" y2="74.80" stroke="#5b9bd5" stroke-width="2"/>
<circle cx="287.3" cy="74.80" r="3.5" fill="#5b9bd5"/>
<text transform="translate(301.60,80.40) scale(0.9,1)" class="lg">0</text>
<line x1="275" y1="105.55" x2="300" y2="105.55" stroke="#ffc000" stroke-width="2"/>
<circle cx="287.3" cy="105.55" r="3.5" fill="#ffc000"/>
<text transform="translate(301.60,111.15) scale(0.9,1)" class="lg">0.1</text>
<line x1="275" y1="136.30" x2="300" y2="136.30" stroke="#ed7d31" stroke-width="2"/>
<circle cx="287.3" cy="136.30" r="3.5" fill="#ed7d31"/>
<text transform="translate(301.60,141.90) scale(0.9,1)" class="lg">0.2</text>
<line x1="275" y1="167.05" x2="300" y2="167.05" stroke="#c00000" stroke-width="2"/>
<circle cx="287.3" cy="167.05" r="3.5" fill="#c00000"/>
<text transform="translate(301.60,172.65) scale(0.9,1)" class="lg">0.5</text>
<line x1="275" y1="197.80" x2="300" y2="197.80" stroke="#7030a0" stroke-width="2"/>
<circle cx="287.3" cy="197.80" r="3.5" fill="#7030a0"/>
<text transform="translate(301.60,203.40) scale(0.9,1)" class="lg">1</text>
<line x1="275" y1="228.55" x2="300" y2="228.55" stroke="#70ad47" stroke-width="2"/>
<circle cx="287.3" cy="228.55" r="3.5" fill="#70ad47"/>
<text transform="translate(301.60,234.15) scale(0.9,1)" class="lg">5</text>
<text x="119.5" y="317.2" class="tt" textLength="86.3" lengthAdjust="spacingAndGlyphs">Time (hours)</text>
<text transform="translate(14.2,236.0) rotate(-90)" class="tt" textLength="158.5" lengthAdjust="spacingAndGlyphs">Growth (OD wideband)</text>
<line x1="421.5" y1="39.5" x2="421.5" y2="268.5" stroke="#d9d9d9" stroke-width="1"/>
<line x1="421.5" y1="268.5" x2="607.14" y2="268.5" stroke="#d9d9d9" stroke-width="1"/>
<text x="407.9" y="273.30" text-anchor="end" class="tk">0</text>
<text x="407.9" y="244.68" text-anchor="end" class="tk" textLength="18.3" lengthAdjust="spacingAndGlyphs">0.1</text>
<text x="407.9" y="216.05" text-anchor="end" class="tk" textLength="18.3" lengthAdjust="spacingAndGlyphs">0.2</text>
<text x="407.9" y="187.43" text-anchor="end" class="tk" textLength="18.3" lengthAdjust="spacingAndGlyphs">0.3</text>
<text x="407.9" y="158.80" text-anchor="end" class="tk" textLength="18.3" lengthAdjust="spacingAndGlyphs">0.4</text>
<text x="407.9" y="130.18" text-anchor="end" class="tk" textLength="18.3" lengthAdjust="spacingAndGlyphs">0.5</text>
<text x="407.9" y="101.55" text-anchor="end" class="tk" textLength="18.3" lengthAdjust="spacingAndGlyphs">0.6</text>
<text x="407.9" y="72.93" text-anchor="end" class="tk" textLength="18.3" lengthAdjust="spacingAndGlyphs">0.7</text>
<text x="407.9" y="44.30" text-anchor="end" class="tk" textLength="18.3" lengthAdjust="spacingAndGlyphs">0.8</text>
<text x="421.50" y="292.50" text-anchor="middle" class="tk">0</text>
<text x="457.20" y="292.50" text-anchor="middle" class="tk">5</text>
<text x="492.90" y="292.50" text-anchor="middle" class="tk" textLength="14.1" lengthAdjust="spacingAndGlyphs">10</text>
<text x="528.60" y="292.50" text-anchor="middle" class="tk" textLength="14.1" lengthAdjust="spacingAndGlyphs">15</text>
<text x="564.30" y="292.50" text-anchor="middle" class="tk" textLength="14.1" lengthAdjust="spacingAndGlyphs">20</text>
<text x="600.00" y="292.50" text-anchor="middle" class="tk" textLength="14.1" lengthAdjust="spacingAndGlyphs">25</text>
<clipPath id="c421"><rect x="411.5" y="0" width="196.54" height="300"/></clipPath>
<g clip-path="url(#c421)">
<path d="M440.1 237.5V240.5M437.4 237.5h5.4M437.4 240.5h5.4M443.6 236.5V238.5M440.9 236.5h5.4M440.9 238.5h5.4M447.2 234.5V236.5M444.5 234.5h5.4M444.5 236.5h5.4M450.7 231.5V233.5M448.0 231.5h5.4M448.0 233.5h5.4M454.3 227.5V230.5M451.6 227.5h5.4M451.6 230.5h5.4M457.8 223.5V225.5M455.1 223.5h5.4M455.1 225.5h5.4M461.4 218.5V220.5M458.7 218.5h5.4M458.7 220.5h5.4M464.9 212.5V214.5M462.2 212.5h5.4M462.2 214.5h5.4M468.5 205.5V208.5M465.8 205.5h5.4M465.8 208.5h5.4M472.1 200.5V203.5M469.4 200.5h5.4M469.4 203.5h5.4M475.6 194.5V197.5M472.9 194.5h5.4M472.9 197.5h5.4M479.2 189.5V192.5M476.5 189.5h5.4M476.5 192.5h5.4M482.7 183.5V187.5M480.0 183.5h5.4M480.0 187.5h5.4M486.3 178.5V183.5M483.6 178.5h5.4M483.6 183.5h5.4M489.8 172.5V178.5M487.1 172.5h5.4M487.1 178.5h5.4M493.4 167.5V174.5M490.7 167.5h5.4M490.7 174.5h5.4M496.9 162.5V170.5M494.2 162.5h5.4M494.2 170.5h5.4M500.5 158.5V166.5M497.8 158.5h5.4M497.8 166.5h5.4M504.1 154.5V163.5M501.4 154.5h5.4M501.4 163.5h5.4M507.6 150.5V159.5M504.9 150.5h5.4M504.9 159.5h5.4M511.2 146.5V156.5M508.5 146.5h5.4M508.5 156.5h5.4M514.7 142.5V153.5M512.0 142.5h5.4M512.0 153.5h5.4M518.3 138.5V149.5M515.6 138.5h5.4M515.6 149.5h5.4M521.8 135.5V146.5M519.1 135.5h5.4M519.1 146.5h5.4M525.4 131.5V143.5M522.7 131.5h5.4M522.7 143.5h5.4M528.9 128.5V140.5M526.2 128.5h5.4M526.2 140.5h5.4M532.5 124.5V137.5M529.8 124.5h5.4M529.8 137.5h5.4M536.0 121.5V135.5M533.3 121.5h5.4M533.3 135.5h5.4M539.6 117.5V132.5M536.9 117.5h5.4M536.9 132.5h5.4M543.2 114.5V129.5M540.5 114.5h5.4M540.5 129.5h5.4M546.7 110.5V126.5M544.0 110.5h5.4M544.0 126.5h5.4M550.3 107.5V123.5M547.6 107.5h5.4M547.6 123.5h5.4M553.8 104.5V121.5M551.1 104.5h5.4M551.1 121.5h5.4M557.4 101.5V118.5M554.7 101.5h5.4M554.7 118.5h5.4M560.9 98.5V116.5M558.2 98.5h5.4M558.2 116.5h5.4M564.5 95.5V114.5M561.8 95.5h5.4M561.8 114.5h5.4M568.0 92.5V111.5M565.3 92.5h5.4M565.3 111.5h5.4M571.6 90.5V109.5M568.9 90.5h5.4M568.9 109.5h5.4M575.1 87.5V107.5M572.4 87.5h5.4M572.4 107.5h5.4M578.7 84.5V105.5M576.0 84.5h5.4M576.0 105.5h5.4M582.3 81.5V103.5M579.6 81.5h5.4M579.6 103.5h5.4M585.8 78.5V101.5M583.1 78.5h5.4M583.1 101.5h5.4M589.4 75.5V98.5M586.7 75.5h5.4M586.7 98.5h5.4M592.9 72.5V96.5M590.2 72.5h5.4M590.2 96.5h5.4M596.5 69.5V94.5M593.8 69.5h5.4M593.8 94.5h5.4M600.0 67.5V92.5M597.3 67.5h5.4M597.3 92.5h5.4M603.6 64.5V90.5M600.9 64.5h5.4M600.9 90.5h5.4M607.1 62.5V89.5M604.4 62.5h5.4M604.4 89.5h5.4" stroke="#6a6a6a" stroke-width="1" fill="none"/>
<path d="M440.1 239.0 L443.6 237.7 L447.2 235.6 L450.7 232.7 L454.3 229.2 L457.8 224.7 L461.4 219.5 L464.9 213.5 L468.5 207.4 L472.1 201.8 L475.6 196.3 L479.2 191.0 L482.7 185.8 L486.3 180.8 L489.8 175.8 L493.4 171.0 L496.9 166.6 L500.5 162.5 L504.1 158.7 L507.6 155.0 L511.2 151.4 L514.7 147.8 L518.3 144.3 L521.8 141.0 L525.4 137.7 L528.9 134.5 L532.5 131.3 L536.0 128.2 L539.6 125.0 L543.2 121.8 L546.7 118.7 L550.3 115.8 L553.8 112.9 L557.4 110.2 L560.9 107.5 L564.5 104.9 L568.0 102.4 L571.6 99.8 L575.1 97.2 L578.7 94.6 L582.3 92.1 L585.8 89.6 L589.4 87.1 L592.9 84.7 L596.5 82.4 L600.0 80.1 L603.6 77.8 L607.1 75.6" stroke="#5b9bd5" stroke-width="2.2" fill="none"/>
<path d="M436.31 239.02a3.75 3.75 0 1 0 7.5 0a3.75 3.75 0 1 0 -7.5 0M439.87 237.66a3.75 3.75 0 1 0 7.5 0a3.75 3.75 0 1 0 -7.5 0M443.42 235.65a3.75 3.75 0 1 0 7.5 0a3.75 3.75 0 1 0 -7.5 0M446.98 232.73a3.75 3.75 0 1 0 7.5 0a3.75 3.75 0 1 0 -7.5 0M450.53 229.16a3.75 3.75 0 1 0 7.5 0a3.75 3.75 0 1 0 -7.5 0M454.09 224.70a3.75 3.75 0 1 0 7.5 0a3.75 3.75 0 1 0 -7.5 0M457.64 219.53a3.75 3.75 0 1 0 7.5 0a3.75 3.75 0 1 0 -7.5 0M461.20 213.48a3.75 3.75 0 1 0 7.5 0a3.75 3.75 0 1 0 -7.5 0M464.75 207.43a3.75 3.75 0 1 0 7.5 0a3.75 3.75 0 1 0 -7.5 0M468.31 201.78a3.75 3.75 0 1 0 7.5 0a3.75 3.75 0 1 0 -7.5 0M471.86 196.31a3.75 3.75 0 1 0 7.5 0a3.75 3.75 0 1 0 -7.5 0M475.42 190.99a3.75 3.75 0 1 0 7.5 0a3.75 3.75 0 1 0 -7.5 0M478.97 185.80a3.75 3.75 0 1 0 7.5 0a3.75 3.75 0 1 0 -7.5 0M482.53 180.77a3.75 3.75 0 1 0 7.5 0a3.75 3.75 0 1 0 -7.5 0M486.08 175.83a3.75 3.75 0 1 0 7.5 0a3.75 3.75 0 1 0 -7.5 0M489.64 171.05a3.75 3.75 0 1 0 7.5 0a3.75 3.75 0 1 0 -7.5 0M493.19 166.60a3.75 3.75 0 1 0 7.5 0a3.75 3.75 0 1 0 -7.5 0M496.75 162.54a3.75 3.75 0 1 0 7.5 0a3.75 3.75 0 1 0 -7.5 0M500.30 158.72a3.75 3.75 0 1 0 7.5 0a3.75 3.75 0 1 0 -7.5 0M503.86 155.01a3.75 3.75 0 1 0 7.5 0a3.75 3.75 0 1 0 -7.5 0M507.41 151.36a3.75 3.75 0 1 0 7.5 0a3.75 3.75 0 1 0 -7.5 0M510.96 147.80a3.75 3.75 0 1 0 7.5 0a3.75 3.75 0 1 0 -7.5 0M514.52 144.34a3.75 3.75 0 1 0 7.5 0a3.75 3.75 0 1 0 -7.5 0M518.07 140.96a3.75 3.75 0 1 0 7.5 0a3.75 3.75 0 1 0 -7.5 0M521.63 137.68a3.75 3.75 0 1 0 7.5 0a3.75 3.75 0 1 0 -7.5 0M525.18 134.48a3.75 3.75 0 1 0 7.5 0a3.75 3.75 0 1 0 -7.5 0M528.74 131.32a3.75 3.75 0 1 0 7.5 0a3.75 3.75 0 1 0 -7.5 0M532.29 128.16a3.75 3.75 0 1 0 7.5 0a3.75 3.75 0 1 0 -7.5 0M535.85 124.99a3.75 3.75 0 1 0 7.5 0a3.75 3.75 0 1 0 -7.5 0M539.40 121.84a3.75 3.75 0 1 0 7.5 0a3.75 3.75 0 1 0 -7.5 0M542.96 118.74a3.75 3.75 0 1 0 7.5 0a3.75 3.75 0 1 0 -7.5 0M546.51 115.75a3.75 3.75 0 1 0 7.5 0a3.75 3.75 0 1 0 -7.5 0M550.07 112.90a3.75 3.75 0 1 0 7.5 0a3.75 3.75 0 1 0 -7.5 0M553.62 110.17a3.75 3.75 0 1 0 7.5 0a3.75 3.75 0 1 0 -7.5 0M557.18 107.52a3.75 3.75 0 1 0 7.5 0a3.75 3.75 0 1 0 -7.5 0M560.73 104.93a3.75 3.75 0 1 0 7.5 0a3.75 3.75 0 1 0 -7.5 0M564.29 102.36a3.75 3.75 0 1 0 7.5 0a3.75 3.75 0 1 0 -7.5 0M567.84 99.79a3.75 3.75 0 1 0 7.5 0a3.75 3.75 0 1 0 -7.5 0M571.40 97.20a3.75 3.75 0 1 0 7.5 0a3.75 3.75 0 1 0 -7.5 0M574.95 94.62a3.75 3.75 0 1 0 7.5 0a3.75 3.75 0 1 0 -7.5 0M578.51 92.08a3.75 3.75 0 1 0 7.5 0a3.75 3.75 0 1 0 -7.5 0M582.06 89.58a3.75 3.75 0 1 0 7.5 0a3.75 3.75 0 1 0 -7.5 0M585.62 87.14a3.75 3.75 0 1 0 7.5 0a3.75 3.75 0 1 0 -7.5 0M589.17 84.74a3.75 3.75 0 1 0 7.5 0a3.75 3.75 0 1 0 -7.5 0M592.73 82.39a3.75 3.75 0 1 0 7.5 0a3.75 3.75 0 1 0 -7.5 0M596.28 80.07a3.75 3.75 0 1 0 7.5 0a3.75 3.75 0 1 0 -7.5 0M599.84 77.80a3.75 3.75 0 1 0 7.5 0a3.75 3.75 0 1 0 -7.5 0M603.39 75.57a3.75 3.75 0 1 0 7.5 0a3.75 3.75 0 1 0 -7.5 0" fill="#5b9bd5"/>
<path d="M440.1 240.5V242.5M437.4 240.5h5.4M437.4 242.5h5.4M443.6 240.5V242.5M440.9 240.5h5.4M440.9 242.5h5.4M447.2 240.5V242.5M444.5 240.5h5.4M444.5 242.5h5.4M450.7 239.5V241.5M448.0 239.5h5.4M448.0 241.5h5.4M454.3 238.5V240.5M451.6 238.5h5.4M451.6 240.5h5.4M457.8 237.5V239.5M455.1 237.5h5.4M455.1 239.5h5.4M461.4 234.5V237.5M458.7 234.5h5.4M458.7 237.5h5.4M464.9 231.5V234.5M462.2 231.5h5.4M462.2 234.5h5.4M468.5 228.5V231.5M465.8 228.5h5.4M465.8 231.5h5.4M472.1 225.5V228.5M469.4 225.5h5.4M469.4 228.5h5.4M475.6 222.5V225.5M472.9 222.5h5.4M472.9 225.5h5.4M479.2 219.5V222.5M476.5 219.5h5.4M476.5 222.5h5.4M482.7 215.5V218.5M480.0 215.5h5.4M480.0 218.5h5.4M486.3 211.5V214.5M483.6 211.5h5.4M483.6 214.5h5.4M489.8 207.5V210.5M487.1 207.5h5.4M487.1 210.5h5.4M493.4 202.5V206.5M490.7 202.5h5.4M490.7 206.5h5.4M496.9 198.5V201.5M494.2 198.5h5.4M494.2 201.5h5.4M500.5 193.5V197.5M497.8 193.5h5.4M497.8 197.5h5.4M504.1 189.5V193.5M501.4 189.5h5.4M501.4 193.5h5.4M507.6 185.5V189.5M504.9 185.5h5.4M504.9 189.5h5.4M511.2 181.5V185.5M508.5 181.5h5.4M508.5 185.5h5.4M514.7 177.5V181.5M512.0 177.5h5.4M512.0 181.5h5.4M518.3 173.5V177.5M515.6 173.5h5.4M515.6 177.5h5.4M521.8 169.5V173.5M519.1 169.5h5.4M519.1 173.5h5.4M525.4 165.5V169.5M522.7 165.5h5.4M522.7 169.5h5.4M528.9 161.5V166.5M526.2 161.5h5.4M526.2 166.5h5.4M532.5 157.5V162.5M529.8 157.5h5.4M529.8 162.5h5.4M536.0 154.5V159.5M533.3 154.5h5.4M533.3 159.5h5.4M539.6 151.5V155.5M536.9 151.5h5.4M536.9 155.5h5.4M543.2 148.5V153.5M540.5 148.5h5.4M540.5 153.5h5.4M546.7 145.5V150.5M544.0 145.5h5.4M544.0 150.5h5.4M550.3 142.5V147.5M547.6 142.5h5.4M547.6 147.5h5.4M553.8 139.5V145.5M551.1 139.5h5.4M551.1 145.5h5.4M557.4 137.5V142.5M554.7 137.5h5.4M554.7 142.5h5.4M560.9 134.5V139.5M558.2 134.5h5.4M558.2 139.5h5.4M564.5 131.5V137.5M561.8 131.5h5.4M561.8 137.5h5.4M568.0 129.5V134.5M565.3 129.5h5.4M565.3 134.5h5.4M571.6 126.5V132.5M568.9 126.5h5.4M568.9 132.5h5.4M575.1 124.5V129.5M572.4 124.5h5.4M572.4 129.5h5.4M578.7 121.5V127.5M576.0 121.5h5.4M576.0 127.5h5.4M582.3 119.5V125.5M579.6 119.5h5.4M579.6 125.5h5.4M585.8 117.5V123.5M583.1 117.5h5.4M583.1 123.5h5.4M589.4 114.5V121.5M586.7 114.5h5.4M586.7 121.5h5.4M592.9 112.5V119.5M590.2 112.5h5.4M590.2 119.5h5.4M596.5 110.5V117.5M593.8 110.5h5.4M593.8 117.5h5.4M600.0 108.5V115.5M597.3 108.5h5.4M597.3 115.5h5.4M603.6 107.5V113.5M600.9 107.5h5.4M600.9 113.5h5.4M607.1 105.5V112.5M604.4 105.5h5.4M604.4 112.5h5.4" stroke="#6a6a6a" stroke-width="1" fill="none"/>
<path d="M440.1 241.6 L443.6 241.5 L447.2 241.3 L450.7 240.9 L454.3 239.9 L457.8 238.2 L461.4 236.2 L464.9 233.1 L468.5 229.9 L472.1 226.9 L475.6 223.8 L479.2 220.6 L482.7 217.0 L486.3 213.1 L489.8 209.0 L493.4 204.5 L496.9 200.0 L500.5 195.7 L504.1 191.4 L507.6 187.3 L511.2 183.2 L514.7 179.3 L518.3 175.4 L521.8 171.4 L525.4 167.6 L528.9 163.8 L532.5 160.1 L536.0 156.7 L539.6 153.6 L543.2 150.7 L546.7 148.0 L550.3 145.2 L553.8 142.4 L557.4 139.7 L560.9 137.0 L564.5 134.4 L568.0 131.9 L571.6 129.4 L575.1 127.0 L578.7 124.6 L582.3 122.3 L585.8 120.2 L589.4 118.1 L592.9 116.1 L596.5 114.1 L600.0 112.3 L603.6 110.5 L607.1 108.8" stroke="#ffc000" stroke-width="2.2" fill="none"/>
<path d="M436.31 241.59a3.75 3.75 0 1 0 7.5 0a3.75 3.75 0 1 0 -7.5 0M439.87 241.51a3.75 3.75 0 1 0 7.5 0a3.75 3.75 0 1 0 -7.5 0M443.42 241.28a3.75 3.75 0 1 0 7.5 0a3.75 3.75 0 1 0 -7.5 0M446.98 240.93a3.75 3.75 0 1 0 7.5 0a3.75 3.75 0 1 0 -7.5 0M450.53 239.90a3.75 3.75 0 1 0 7.5 0a3.75 3.75 0 1 0 -7.5 0M454.09 238.22a3.75 3.75 0 1 0 7.5 0a3.75 3.75 0 1 0 -7.5 0M457.64 236.16a3.75 3.75 0 1 0 7.5 0a3.75 3.75 0 1 0 -7.5 0M461.20 233.13a3.75 3.75 0 1 0 7.5 0a3.75 3.75 0 1 0 -7.5 0M464.75 229.92a3.75 3.75 0 1 0 7.5 0a3.75 3.75 0 1 0 -7.5 0M468.31 226.90a3.75 3.75 0 1 0 7.5 0a3.75 3.75 0 1 0 -7.5 0M471.86 223.82a3.75 3.75 0 1 0 7.5 0a3.75 3.75 0 1 0 -7.5 0M475.42 220.56a3.75 3.75 0 1 0 7.5 0a3.75 3.75 0 1 0 -7.5 0M478.97 217.00a3.75 3.75 0 1 0 7.5 0a3.75 3.75 0 1 0 -7.5 0M482.53 213.14a3.75 3.75 0 1 0 7.5 0a3.75 3.75 0 1 0 -7.5 0M486.08 208.96a3.75 3.75 0 1 0 7.5 0a3.75 3.75 0 1 0 -7.5 0M489.64 204.47a3.75 3.75 0 1 0 7.5 0a3.75 3.75 0 1 0 -7.5 0M493.19 199.99a3.75 3.75 0 1 0 7.5 0a3.75 3.75 0 1 0 -7.5 0M496.75 195.67a3.75 3.75 0 1 0 7.5 0a3.75 3.75 0 1 0 -7.5 0M500.30 191.41a3.75 3.75 0 1 0 7.5 0a3.75 3.75 0 1 0 -7.5 0M503.86 187.25a3.75 3.75 0 1 0 7.5 0a3.75 3.75 0 1 0 -7.5 0M507.41 183.25a3.75 3.75 0 1 0 7.5 0a3.75 3.75 0 1 0 -7.5 0M510.96 179.31a3.75 3.75 0 1 0 7.5 0a3.75 3.75 0 1 0 -7.5 0M514.52 175.37a3.75 3.75 0 1 0 7.5 0a3.75 3.75 0 1 0 -7.5 0M518.07 171.45a3.75 3.75 0 1 0 7.5 0a3.75 3.75 0 1 0 -7.5 0M521.63 167.60a3.75 3.75 0 1 0 7.5 0a3.75 3.75 0 1 0 -7.5 0M525.18 163.84a3.75 3.75 0 1 0 7.5 0a3.75 3.75 0 1 0 -7.5 0M528.74 160.13a3.75 3.75 0 1 0 7.5 0a3.75 3.75 0 1 0 -7.5 0M532.29 156.68a3.75 3.75 0 1 0 7.5 0a3.75 3.75 0 1 0 -7.5 0M535.85 153.59a3.75 3.75 0 1 0 7.5 0a3.75 3.75 0 1 0 -7.5 0M539.40 150.72a3.75 3.75 0 1 0 7.5 0a3.75 3.75 0 1 0 -7.5 0M542.96 147.97a3.75 3.75 0 1 0 7.5 0a3.75 3.75 0 1 0 -7.5 0M546.51 145.22a3.75 3.75 0 1 0 7.5 0a3.75 3.75 0 1 0 -7.5 0M550.07 142.44a3.75 3.75 0 1 0 7.5 0a3.75 3.75 0 1 0 -7.5 0M553.62 139.69a3.75 3.75 0 1 0 7.5 0a3.75 3.75 0 1 0 -7.5 0M557.18 137.00a3.75 3.75 0 1 0 7.5 0a3.75 3.75 0 1 0 -7.5 0M560.73 134.40a3.75 3.75 0 1 0 7.5 0a3.75 3.75 0 1 0 -7.5 0M564.29 131.88a3.75 3.75 0 1 0 7.5 0a3.75 3.75 0 1 0 -7.5 0M567.84 129.39a3.75 3.75 0 1 0 7.5 0a3.75 3.75 0 1 0 -7.5 0M571.40 126.96a3.75 3.75 0 1 0 7.5 0a3.75 3.75 0 1 0 -7.5 0M574.95 124.60a3.75 3.75 0 1 0 7.5 0a3.75 3.75 0 1 0 -7.5 0M578.51 122.33a3.75 3.75 0 1 0 7.5 0a3.75 3.75 0 1 0 -7.5 0M582.06 120.17a3.75 3.75 0 1 0 7.5 0a3.75 3.75 0 1 0 -7.5 0M585.62 118.09a3.75 3.75 0 1 0 7.5 0a3.75 3.75 0 1 0 -7.5 0M589.17 116.08a3.75 3.75 0 1 0 7.5 0a3.75 3.75 0 1 0 -7.5 0M592.73 114.14a3.75 3.75 0 1 0 7.5 0a3.75 3.75 0 1 0 -7.5 0M596.28 112.27a3.75 3.75 0 1 0 7.5 0a3.75 3.75 0 1 0 -7.5 0M599.84 110.48a3.75 3.75 0 1 0 7.5 0a3.75 3.75 0 1 0 -7.5 0M603.39 108.77a3.75 3.75 0 1 0 7.5 0a3.75 3.75 0 1 0 -7.5 0" fill="#ffc000"/>
<path d="M440.1 239.5V242.5M437.4 239.5h5.4M437.4 242.5h5.4M443.6 239.5V242.5M440.9 239.5h5.4M440.9 242.5h5.4M447.2 239.5V242.5M444.5 239.5h5.4M444.5 242.5h5.4M450.7 239.5V241.5M448.0 239.5h5.4M448.0 241.5h5.4M454.3 239.5V241.5M451.6 239.5h5.4M451.6 241.5h5.4M457.8 239.5V241.5M455.1 239.5h5.4M455.1 241.5h5.4M461.4 238.5V240.5M458.7 238.5h5.4M458.7 240.5h5.4M464.9 236.5V239.5M462.2 236.5h5.4M462.2 239.5h5.4M468.5 235.5V238.5M465.8 235.5h5.4M465.8 238.5h5.4M472.1 233.5V236.5M469.4 233.5h5.4M469.4 236.5h5.4M475.6 230.5V234.5M472.9 230.5h5.4M472.9 234.5h5.4M479.2 227.5V231.5M476.5 227.5h5.4M476.5 231.5h5.4M482.7 225.5V228.5M480.0 225.5h5.4M480.0 228.5h5.4M486.3 221.5V226.5M483.6 221.5h5.4M483.6 226.5h5.4M489.8 218.5V223.5M487.1 218.5h5.4M487.1 223.5h5.4M493.4 214.5V220.5M490.7 214.5h5.4M490.7 220.5h5.4M496.9 209.5V216.5M494.2 209.5h5.4M494.2 216.5h5.4M500.5 204.5V212.5M497.8 204.5h5.4M497.8 212.5h5.4M504.1 200.5V208.5M501.4 200.5h5.4M501.4 208.5h5.4M507.6 195.5V204.5M504.9 195.5h5.4M504.9 204.5h5.4M511.2 191.5V200.5M508.5 191.5h5.4M508.5 200.5h5.4M514.7 187.5V196.5M512.0 187.5h5.4M512.0 196.5h5.4M518.3 182.5V192.5M515.6 182.5h5.4M515.6 192.5h5.4M521.8 178.5V188.5M519.1 178.5h5.4M519.1 188.5h5.4M525.4 174.5V184.5M522.7 174.5h5.4M522.7 184.5h5.4M528.9 170.5V180.5M526.2 170.5h5.4M526.2 180.5h5.4M532.5 166.5V176.5M529.8 166.5h5.4M529.8 176.5h5.4M536.0 162.5V173.5M533.3 162.5h5.4M533.3 173.5h5.4M539.6 159.5V169.5M536.9 159.5h5.4M536.9 169.5h5.4M543.2 155.5V165.5M540.5 155.5h5.4M540.5 165.5h5.4M546.7 151.5V162.5M544.0 151.5h5.4M544.0 162.5h5.4M550.3 147.5V158.5M547.6 147.5h5.4M547.6 158.5h5.4M553.8 143.5V154.5M551.1 143.5h5.4M551.1 154.5h5.4M557.4 140.5V151.5M554.7 140.5h5.4M554.7 151.5h5.4M560.9 136.5V147.5M558.2 136.5h5.4M558.2 147.5h5.4M564.5 132.5V144.5M561.8 132.5h5.4M561.8 144.5h5.4M568.0 129.5V140.5M565.3 129.5h5.4M565.3 140.5h5.4M571.6 125.5V137.5M568.9 125.5h5.4M568.9 137.5h5.4M575.1 121.5V133.5M572.4 121.5h5.4M572.4 133.5h5.4M578.7 117.5V130.5M576.0 117.5h5.4M576.0 130.5h5.4M582.3 113.5V126.5M579.6 113.5h5.4M579.6 126.5h5.4M585.8 110.5V123.5M583.1 110.5h5.4M583.1 123.5h5.4M589.4 106.5V119.5M586.7 106.5h5.4M586.7 119.5h5.4M592.9 102.5V116.5M590.2 102.5h5.4M590.2 116.5h5.4M596.5 99.5V112.5M593.8 99.5h5.4M593.8 112.5h5.4M600.0 95.5V109.5M597.3 95.5h5.4M597.3 109.5h5.4M603.6 92.5V106.5M600.9 92.5h5.4M600.9 106.5h5.4M607.1 89.5V103.5M604.4 89.5h5.4M604.4 103.5h5.4" stroke="#6a6a6a" stroke-width="1" fill="none"/>
<path d="M440.1 241.0 L443.6 241.0 L447.2 240.9 L450.7 240.8 L454.3 240.6 L457.8 240.4 L461.4 239.6 L464.9 238.3 L468.5 236.7 L472.1 234.8 L475.6 232.4 L479.2 229.7 L482.7 226.9 L486.3 224.0 L489.8 220.7 L493.4 217.1 L496.9 212.9 L500.5 208.5 L504.1 204.1 L507.6 199.9 L511.2 195.8 L514.7 191.7 L518.3 187.6 L521.8 183.6 L525.4 179.7 L528.9 175.8 L532.5 171.9 L536.0 168.1 L539.6 164.3 L543.2 160.5 L546.7 156.8 L550.3 153.0 L553.8 149.4 L557.4 145.7 L560.9 142.1 L564.5 138.4 L568.0 134.8 L571.6 131.2 L575.1 127.6 L578.7 123.9 L582.3 120.3 L585.8 116.6 L589.4 113.0 L592.9 109.5 L596.5 106.0 L600.0 102.6 L603.6 99.5 L607.1 96.5" stroke="#ed7d31" stroke-width="2.2" fill="none"/>
<path d="M436.31 241.02a3.75 3.75 0 1 0 7.5 0a3.75 3.75 0 1 0 -7.5 0M439.87 240.99a3.75 3.75 0 1 0 7.5 0a3.75 3.75 0 1 0 -7.5 0M443.42 240.92a3.75 3.75 0 1 0 7.5 0a3.75 3.75 0 1 0 -7.5 0M446.98 240.79a3.75 3.75 0 1 0 7.5 0a3.75 3.75 0 1 0 -7.5 0M450.53 240.62a3.75 3.75 0 1 0 7.5 0a3.75 3.75 0 1 0 -7.5 0M454.09 240.39a3.75 3.75 0 1 0 7.5 0a3.75 3.75 0 1 0 -7.5 0M457.64 239.63a3.75 3.75 0 1 0 7.5 0a3.75 3.75 0 1 0 -7.5 0M461.20 238.29a3.75 3.75 0 1 0 7.5 0a3.75 3.75 0 1 0 -7.5 0M464.75 236.68a3.75 3.75 0 1 0 7.5 0a3.75 3.75 0 1 0 -7.5 0M468.31 234.83a3.75 3.75 0 1 0 7.5 0a3.75 3.75 0 1 0 -7.5 0M471.86 232.39a3.75 3.75 0 1 0 7.5 0a3.75 3.75 0 1 0 -7.5 0M475.42 229.67a3.75 3.75 0 1 0 7.5 0a3.75 3.75 0 1 0 -7.5 0M478.97 226.92a3.75 3.75 0 1 0 7.5 0a3.75 3.75 0 1 0 -7.5 0M482.53 223.98a3.75 3.75 0 1 0 7.5 0a3.75 3.75 0 1 0 -7.5 0M486.08 220.74a3.75 3.75 0 1 0 7.5 0a3.75 3.75 0 1 0 -7.5 0M489.64 217.08a3.75 3.75 0 1 0 7.5 0a3.75 3.75 0 1 0 -7.5 0M493.19 212.94a3.75 3.75 0 1 0 7.5 0a3.75 3.75 0 1 0 -7.5 0M496.75 208.55a3.75 3.75 0 1 0 7.5 0a3.75 3.75 0 1 0 -7.5 0M500.30 204.12a3.75 3.75 0 1 0 7.5 0a3.75 3.75 0 1 0 -7.5 0M503.86 199.88a3.75 3.75 0 1 0 7.5 0a3.75 3.75 0 1 0 -7.5 0M507.41 195.77a3.75 3.75 0 1 0 7.5 0a3.75 3.75 0 1 0 -7.5 0M510.96 191.69a3.75 3.75 0 1 0 7.5 0a3.75 3.75 0 1 0 -7.5 0M514.52 187.64a3.75 3.75 0 1 0 7.5 0a3.75 3.75 0 1 0 -7.5 0M518.07 183.63a3.75 3.75 0 1 0 7.5 0a3.75 3.75 0 1 0 -7.5 0M521.63 179.68a3.75 3.75 0 1 0 7.5 0a3.75 3.75 0 1 0 -7.5 0M525.18 175.78a3.75 3.75 0 1 0 7.5 0a3.75 3.75 0 1 0 -7.5 0M528.74 171.91a3.75 3.75 0 1 0 7.5 0a3.75 3.75 0 1 0 -7.5 0M532.29 168.08a3.75 3.75 0 1 0 7.5 0a3.75 3.75 0 1 0 -7.5 0M535.85 164.28a3.75 3.75 0 1 0 7.5 0a3.75 3.75 0 1 0 -7.5 0M539.40 160.51a3.75 3.75 0 1 0 7.5 0a3.75 3.75 0 1 0 -7.5 0M542.96 156.76a3.75 3.75 0 1 0 7.5 0a3.75 3.75 0 1 0 -7.5 0M546.51 153.04a3.75 3.75 0 1 0 7.5 0a3.75 3.75 0 1 0 -7.5 0M550.07 149.36a3.75 3.75 0 1 0 7.5 0a3.75 3.75 0 1 0 -7.5 0M553.62 145.70a3.75 3.75 0 1 0 7.5 0a3.75 3.75 0 1 0 -7.5 0M557.18 142.06a3.75 3.75 0 1 0 7.5 0a3.75 3.75 0 1 0 -7.5 0M560.73 138.44a3.75 3.75 0 1 0 7.5 0a3.75 3.75 0 1 0 -7.5 0M564.29 134.83a3.75 3.75 0 1 0 7.5 0a3.75 3.75 0 1 0 -7.5 0M567.84 131.23a3.75 3.75 0 1 0 7.5 0a3.75 3.75 0 1 0 -7.5 0M571.40 127.60a3.75 3.75 0 1 0 7.5 0a3.75 3.75 0 1 0 -7.5 0M574.95 123.95a3.75 3.75 0 1 0 7.5 0a3.75 3.75 0 1 0 -7.5 0M578.51 120.28a3.75 3.75 0 1 0 7.5 0a3.75 3.75 0 1 0 -7.5 0M582.06 116.63a3.75 3.75 0 1 0 7.5 0a3.75 3.75 0 1 0 -7.5 0M585.62 113.01a3.75 3.75 0 1 0 7.5 0a3.75 3.75 0 1 0 -7.5 0M589.17 109.46a3.75 3.75 0 1 0 7.5 0a3.75 3.75 0 1 0 -7.5 0M592.73 106.00a3.75 3.75 0 1 0 7.5 0a3.75 3.75 0 1 0 -7.5 0M596.28 102.65a3.75 3.75 0 1 0 7.5 0a3.75 3.75 0 1 0 -7.5 0M599.84 99.46a3.75 3.75 0 1 0 7.5 0a3.75 3.75 0 1 0 -7.5 0M603.39 96.46a3.75 3.75 0 1 0 7.5 0a3.75 3.75 0 1 0 -7.5 0" fill="#ed7d31"/>
<path d="M440.1 241.5V243.5M437.4 241.5h5.4M437.4 243.5h5.4M443.6 241.5V243.5M440.9 241.5h5.4M440.9 243.5h5.4M447.2 241.5V243.5M444.5 241.5h5.4M444.5 243.5h5.4M450.7 241.5V243.5M448.0 241.5h5.4M448.0 243.5h5.4M454.3 241.5V243.5M451.6 241.5h5.4M451.6 243.5h5.4M457.8 242.5V243.5M455.1 242.5h5.4M455.1 243.5h5.4M461.4 242.5V243.5M458.7 242.5h5.4M458.7 243.5h5.4M464.9 242.5V243.5M462.2 242.5h5.4M462.2 243.5h5.4M468.5 242.5V243.5M465.8 242.5h5.4M465.8 243.5h5.4M472.1 242.5V243.5M469.4 242.5h5.4M469.4 243.5h5.4M475.6 242.5V243.5M472.9 242.5h5.4M472.9 243.5h5.4M479.2 242.5V243.5M476.5 242.5h5.4M476.5 243.5h5.4M482.7 242.5V243.5M480.0 242.5h5.4M480.0 243.5h5.4M486.3 242.5V243.5M483.6 242.5h5.4M483.6 243.5h5.4M489.8 242.5V243.5M487.1 242.5h5.4M487.1 243.5h5.4M493.4 242.5V243.5M490.7 242.5h5.4M490.7 243.5h5.4M496.9 242.5V243.5M494.2 242.5h5.4M494.2 243.5h5.4M500.5 242.5V243.5M497.8 242.5h5.4M497.8 243.5h5.4M504.1 242.5V243.5M501.4 242.5h5.4M501.4 243.5h5.4M507.6 242.5V243.5M504.9 242.5h5.4M504.9 243.5h5.4M511.2 242.5V243.5M508.5 242.5h5.4M508.5 243.5h5.4M514.7 242.5V243.5M512.0 242.5h5.4M512.0 243.5h5.4M518.3 242.5V243.5M515.6 242.5h5.4M515.6 243.5h5.4M521.8 242.5V243.5M519.1 242.5h5.4M519.1 243.5h5.4M525.4 242.5V243.5M522.7 242.5h5.4M522.7 243.5h5.4M528.9 242.5V243.5M526.2 242.5h5.4M526.2 243.5h5.4M532.5 242.5V243.5M529.8 242.5h5.4M529.8 243.5h5.4M536.0 242.5V243.5M533.3 242.5h5.4M533.3 243.5h5.4M539.6 242.5V243.5M536.9 242.5h5.4M536.9 243.5h5.4M543.2 242.5V243.5M540.5 242.5h5.4M540.5 243.5h5.4M546.7 242.5V243.5M544.0 242.5h5.4M544.0 243.5h5.4M550.3 242.5V243.5M547.6 242.5h5.4M547.6 243.5h5.4M553.8 242.5V243.5M551.1 242.5h5.4M551.1 243.5h5.4M557.4 242.5V243.5M554.7 242.5h5.4M554.7 243.5h5.4M560.9 242.5V243.5M558.2 242.5h5.4M558.2 243.5h5.4M564.5 242.5V243.5M561.8 242.5h5.4M561.8 243.5h5.4M568.0 242.5V243.5M565.3 242.5h5.4M565.3 243.5h5.4M571.6 242.5V243.5M568.9 242.5h5.4M568.9 243.5h5.4M575.1 242.5V243.5M572.4 242.5h5.4M572.4 243.5h5.4M578.7 242.5V243.5M576.0 242.5h5.4M576.0 243.5h5.4M582.3 242.5V243.5M579.6 242.5h5.4M579.6 243.5h5.4M585.8 242.5V243.5M583.1 242.5h5.4M583.1 243.5h5.4M589.4 242.5V243.5M586.7 242.5h5.4M586.7 243.5h5.4M592.9 242.5V243.5M590.2 242.5h5.4M590.2 243.5h5.4M596.5 242.5V243.5M593.8 242.5h5.4M593.8 243.5h5.4M600.0 242.5V243.5M597.3 242.5h5.4M597.3 243.5h5.4M603.6 242.5V243.5M600.9 242.5h5.4M600.9 243.5h5.4M607.1 242.5V243.5M604.4 242.5h5.4M604.4 243.5h5.4" stroke="#6a6a6a" stroke-width="1" fill="none"/>
<path d="M440.1 242.7 L443.6 242.8 L447.2 242.8 L450.7 242.8 L454.3 242.8 L457.8 242.9 L461.4 242.9 L464.9 242.9 L468.5 242.9 L472.1 243.0 L475.6 243.0 L479.2 243.0 L482.7 243.0 L486.3 243.0 L489.8 243.0 L493.4 243.0 L496.9 243.0 L500.5 243.0 L504.1 243.0 L507.6 243.0 L511.2 243.0 L514.7 243.0 L518.3 243.0 L521.8 243.0 L525.4 243.0 L528.9 243.0 L532.5 243.0 L536.0 243.0 L539.6 243.0 L543.2 243.0 L546.7 243.0 L550.3 243.0 L553.8 243.0 L557.4 243.0 L560.9 243.0 L564.5 243.0 L568.0 243.0 L571.6 243.0 L575.1 243.0 L578.7 243.0 L582.3 243.0 L585.8 243.0 L589.4 243.0 L592.9 243.0 L596.5 243.0 L600.0 243.0 L603.6 243.0 L607.1 243.0" stroke="#c00000" stroke-width="2.2" fill="none"/>
<path d="M436.31 242.74a3.75 3.75 0 1 0 7.5 0a3.75 3.75 0 1 0 -7.5 0M439.87 242.77a3.75 3.75 0 1 0 7.5 0a3.75 3.75 0 1 0 -7.5 0M443.42 242.79a3.75 3.75 0 1 0 7.5 0a3.75 3.75 0 1 0 -7.5 0M446.98 242.82a3.75 3.75 0 1 0 7.5 0a3.75 3.75 0 1 0 -7.5 0M450.53 242.85a3.75 3.75 0 1 0 7.5 0a3.75 3.75 0 1 0 -7.5 0M454.09 242.87a3.75 3.75 0 1 0 7.5 0a3.75 3.75 0 1 0 -7.5 0M457.64 242.90a3.75 3.75 0 1 0 7.5 0a3.75 3.75 0 1 0 -7.5 0M461.20 242.92a3.75 3.75 0 1 0 7.5 0a3.75 3.75 0 1 0 -7.5 0M464.75 242.94a3.75 3.75 0 1 0 7.5 0a3.75 3.75 0 1 0 -7.5 0M468.31 242.96a3.75 3.75 0 1 0 7.5 0a3.75 3.75 0 1 0 -7.5 0M471.86 242.98a3.75 3.75 0 1 0 7.5 0a3.75 3.75 0 1 0 -7.5 0M475.42 243.00a3.75 3.75 0 1 0 7.5 0a3.75 3.75 0 1 0 -7.5 0M478.97 243.01a3.75 3.75 0 1 0 7.5 0a3.75 3.75 0 1 0 -7.5 0M482.53 243.02a3.75 3.75 0 1 0 7.5 0a3.75 3.75 0 1 0 -7.5 0M486.08 243.02a3.75 3.75 0 1 0 7.5 0a3.75 3.75 0 1 0 -7.5 0M489.64 243.02a3.75 3.75 0 1 0 7.5 0a3.75 3.75 0 1 0 -7.5 0M493.19 243.02a3.75 3.75 0 1 0 7.5 0a3.75 3.75 0 1 0 -7.5 0M496.75 243.02a3.75 3.75 0 1 0 7.5 0a3.75 3.75 0 1 0 -7.5 0M500.30 243.02a3.75 3.75 0 1 0 7.5 0a3.75 3.75 0 1 0 -7.5 0M503.86 243.02a3.75 3.75 0 1 0 7.5 0a3.75 3.75 0 1 0 -7.5 0M507.41 243.02a3.75 3.75 0 1 0 7.5 0a3.75 3.75 0 1 0 -7.5 0M510.96 243.02a3.75 3.75 0 1 0 7.5 0a3.75 3.75 0 1 0 -7.5 0M514.52 243.02a3.75 3.75 0 1 0 7.5 0a3.75 3.75 0 1 0 -7.5 0M518.07 243.02a3.75 3.75 0 1 0 7.5 0a3.75 3.75 0 1 0 -7.5 0M521.63 243.02a3.75 3.75 0 1 0 7.5 0a3.75 3.75 0 1 0 -7.5 0M525.18 243.02a3.75 3.75 0 1 0 7.5 0a3.75 3.75 0 1 0 -7.5 0M528.74 243.02a3.75 3.75 0 1 0 7.5 0a3.75 3.75 0 1 0 -7.5 0M532.29 243.02a3.75 3.75 0 1 0 7.5 0a3.75 3.75 0 1 0 -7.5 0M535.85 243.02a3.75 3.75 0 1 0 7.5 0a3.75 3.75 0 1 0 -7.5 0M539.40 243.02a3.75 3.75 0 1 0 7.5 0a3.75 3.75 0 1 0 -7.5 0M542.96 243.02a3.75 3.75 0 1 0 7.5 0a3.75 3.75 0 1 0 -7.5 0M546.51 243.02a3.75 3.75 0 1 0 7.5 0a3.75 3.75 0 1 0 -7.5 0M550.07 243.02a3.75 3.75 0 1 0 7.5 0a3.75 3.75 0 1 0 -7.5 0M553.62 243.02a3.75 3.75 0 1 0 7.5 0a3.75 3.75 0 1 0 -7.5 0M557.18 243.02a3.75 3.75 0 1 0 7.5 0a3.75 3.75 0 1 0 -7.5 0M560.73 243.02a3.75 3.75 0 1 0 7.5 0a3.75 3.75 0 1 0 -7.5 0M564.29 243.02a3.75 3.75 0 1 0 7.5 0a3.75 3.75 0 1 0 -7.5 0M567.84 243.02a3.75 3.75 0 1 0 7.5 0a3.75 3.75 0 1 0 -7.5 0M571.40 243.02a3.75 3.75 0 1 0 7.5 0a3.75 3.75 0 1 0 -7.5 0M574.95 243.02a3.75 3.75 0 1 0 7.5 0a3.75 3.75 0 1 0 -7.5 0M578.51 243.02a3.75 3.75 0 1 0 7.5 0a3.75 3.75 0 1 0 -7.5 0M582.06 243.02a3.75 3.75 0 1 0 7.5 0a3.75 3.75 0 1 0 -7.5 0M585.62 243.02a3.75 3.75 0 1 0 7.5 0a3.75 3.75 0 1 0 -7.5 0M589.17 243.02a3.75 3.75 0 1 0 7.5 0a3.75 3.75 0 1 0 -7.5 0M592.73 243.02a3.75 3.75 0 1 0 7.5 0a3.75 3.75 0 1 0 -7.5 0M596.28 243.02a3.75 3.75 0 1 0 7.5 0a3.75 3.75 0 1 0 -7.5 0M599.84 243.02a3.75 3.75 0 1 0 7.5 0a3.75 3.75 0 1 0 -7.5 0M603.39 243.02a3.75 3.75 0 1 0 7.5 0a3.75 3.75 0 1 0 -7.5 0" fill="#c00000"/>
<path d="M440.1 243.5V245.5M437.4 243.5h5.4M437.4 245.5h5.4M443.6 243.5V245.5M440.9 243.5h5.4M440.9 245.5h5.4M447.2 243.5V245.5M444.5 243.5h5.4M444.5 245.5h5.4M450.7 243.5V245.5M448.0 243.5h5.4M448.0 245.5h5.4M454.3 243.5V245.5M451.6 243.5h5.4M451.6 245.5h5.4M457.8 243.5V245.5M455.1 243.5h5.4M455.1 245.5h5.4M461.4 243.5V245.5M458.7 243.5h5.4M458.7 245.5h5.4M464.9 243.5V245.5M462.2 243.5h5.4M462.2 245.5h5.4M468.5 243.5V245.5M465.8 243.5h5.4M465.8 245.5h5.4M472.1 243.5V245.5M469.4 243.5h5.4M469.4 245.5h5.4M475.6 243.5V245.5M472.9 243.5h5.4M472.9 245.5h5.4M479.2 243.5V245.5M476.5 243.5h5.4M476.5 245.5h5.4M482.7 243.5V245.5M480.0 243.5h5.4M480.0 245.5h5.4M486.3 243.5V245.5M483.6 243.5h5.4M483.6 245.5h5.4M489.8 243.5V245.5M487.1 243.5h5.4M487.1 245.5h5.4M493.4 243.5V245.5M490.7 243.5h5.4M490.7 245.5h5.4M496.9 243.5V245.5M494.2 243.5h5.4M494.2 245.5h5.4M500.5 243.5V245.5M497.8 243.5h5.4M497.8 245.5h5.4M504.1 243.5V245.5M501.4 243.5h5.4M501.4 245.5h5.4M507.6 243.5V245.5M504.9 243.5h5.4M504.9 245.5h5.4M511.2 243.5V245.5M508.5 243.5h5.4M508.5 245.5h5.4M514.7 243.5V245.5M512.0 243.5h5.4M512.0 245.5h5.4M518.3 243.5V245.5M515.6 243.5h5.4M515.6 245.5h5.4M521.8 243.5V245.5M519.1 243.5h5.4M519.1 245.5h5.4M525.4 243.5V245.5M522.7 243.5h5.4M522.7 245.5h5.4M528.9 243.5V245.5M526.2 243.5h5.4M526.2 245.5h5.4M532.5 243.5V245.5M529.8 243.5h5.4M529.8 245.5h5.4M536.0 243.5V245.5M533.3 243.5h5.4M533.3 245.5h5.4M539.6 243.5V245.5M536.9 243.5h5.4M536.9 245.5h5.4M543.2 243.5V245.5M540.5 243.5h5.4M540.5 245.5h5.4M546.7 243.5V245.5M544.0 243.5h5.4M544.0 245.5h5.4M550.3 243.5V245.5M547.6 243.5h5.4M547.6 245.5h5.4M553.8 243.5V244.5M551.1 243.5h5.4M551.1 244.5h5.4M557.4 243.5V244.5M554.7 243.5h5.4M554.7 244.5h5.4M560.9 243.5V244.5M558.2 243.5h5.4M558.2 244.5h5.4M564.5 243.5V244.5M561.8 243.5h5.4M561.8 244.5h5.4M568.0 243.5V244.5M565.3 243.5h5.4M565.3 244.5h5.4M571.6 243.5V244.5M568.9 243.5h5.4M568.9 244.5h5.4M575.1 243.5V244.5M572.4 243.5h5.4M572.4 244.5h5.4M578.7 242.5V244.5M576.0 242.5h5.4M576.0 244.5h5.4M582.3 242.5V244.5M579.6 242.5h5.4M579.6 244.5h5.4M585.8 242.5V244.5M583.1 242.5h5.4M583.1 244.5h5.4M589.4 242.5V244.5M586.7 242.5h5.4M586.7 244.5h5.4M592.9 242.5V244.5M590.2 242.5h5.4M590.2 244.5h5.4M596.5 242.5V244.5M593.8 242.5h5.4M593.8 244.5h5.4M600.0 242.5V244.5M597.3 242.5h5.4M597.3 244.5h5.4M603.6 242.5V244.5M600.9 242.5h5.4M600.9 244.5h5.4M607.1 242.5V244.5M604.4 242.5h5.4M604.4 244.5h5.4" stroke="#6a6a6a" stroke-width="1" fill="none"/>
<path d="M440.1 244.2 L443.6 244.2 L447.2 244.2 L450.7 244.3 L454.3 244.3 L457.8 244.3 L461.4 244.4 L464.9 244.4 L468.5 244.4 L472.1 244.4 L475.6 244.4 L479.2 244.4 L482.7 244.4 L486.3 244.5 L489.8 244.5 L493.4 244.5 L496.9 244.5 L500.5 244.4 L504.1 244.4 L507.6 244.4 L511.2 244.4 L514.7 244.4 L518.3 244.4 L521.8 244.4 L525.4 244.3 L528.9 244.3 L532.5 244.3 L536.0 244.3 L539.6 244.2 L543.2 244.2 L546.7 244.2 L550.3 244.2 L553.8 244.1 L557.4 244.1 L560.9 244.1 L564.5 244.0 L568.0 244.0 L571.6 243.9 L575.1 243.9 L578.7 243.8 L582.3 243.8 L585.8 243.7 L589.4 243.6 L592.9 243.6 L596.5 243.5 L600.0 243.5 L603.6 243.4 L607.1 243.3" stroke="#7030a0" stroke-width="2.2" fill="none"/>
<path d="M436.31 244.17a3.75 3.75 0 1 0 7.5 0a3.75 3.75 0 1 0 -7.5 0M439.87 244.20a3.75 3.75 0 1 0 7.5 0a3.75 3.75 0 1 0 -7.5 0M443.42 244.24a3.75 3.75 0 1 0 7.5 0a3.75 3.75 0 1 0 -7.5 0M446.98 244.27a3.75 3.75 0 1 0 7.5 0a3.75 3.75 0 1 0 -7.5 0M450.53 244.30a3.75 3.75 0 1 0 7.5 0a3.75 3.75 0 1 0 -7.5 0M454.09 244.33a3.75 3.75 0 1 0 7.5 0a3.75 3.75 0 1 0 -7.5 0M457.64 244.35a3.75 3.75 0 1 0 7.5 0a3.75 3.75 0 1 0 -7.5 0M461.20 244.37a3.75 3.75 0 1 0 7.5 0a3.75 3.75 0 1 0 -7.5 0M464.75 244.39a3.75 3.75 0 1 0 7.5 0a3.75 3.75 0 1 0 -7.5 0M468.31 244.41a3.75 3.75 0 1 0 7.5 0a3.75 3.75 0 1 0 -7.5 0M471.86 244.42a3.75 3.75 0 1 0 7.5 0a3.75 3.75 0 1 0 -7.5 0M475.42 244.43a3.75 3.75 0 1 0 7.5 0a3.75 3.75 0 1 0 -7.5 0M478.97 244.44a3.75 3.75 0 1 0 7.5 0a3.75 3.75 0 1 0 -7.5 0M482.53 244.45a3.75 3.75 0 1 0 7.5 0a3.75 3.75 0 1 0 -7.5 0M486.08 244.45a3.75 3.75 0 1 0 7.5 0a3.75 3.75 0 1 0 -7.5 0M489.64 244.45a3.75 3.75 0 1 0 7.5 0a3.75 3.75 0 1 0 -7.5 0M493.19 244.45a3.75 3.75 0 1 0 7.5 0a3.75 3.75 0 1 0 -7.5 0M496.75 244.45a3.75 3.75 0 1 0 7.5 0a3.75 3.75 0 1 0 -7.5 0M500.30 244.44a3.75 3.75 0 1 0 7.5 0a3.75 3.75 0 1 0 -7.5 0M503.86 244.43a3.75 3.75 0 1 0 7.5 0a3.75 3.75 0 1 0 -7.5 0M507.41 244.42a3.75 3.75 0 1 0 7.5 0a3.75 3.75 0 1 0 -7.5 0M510.96 244.40a3.75 3.75 0 1 0 7.5 0a3.75 3.75 0 1 0 -7.5 0M514.52 244.38a3.75 3.75 0 1 0 7.5 0a3.75 3.75 0 1 0 -7.5 0M518.07 244.36a3.75 3.75 0 1 0 7.5 0a3.75 3.75 0 1 0 -7.5 0M521.63 244.34a3.75 3.75 0 1 0 7.5 0a3.75 3.75 0 1 0 -7.5 0M525.18 244.32a3.75 3.75 0 1 0 7.5 0a3.75 3.75 0 1 0 -7.5 0M528.74 244.30a3.75 3.75 0 1 0 7.5 0a3.75 3.75 0 1 0 -7.5 0M532.29 244.27a3.75 3.75 0 1 0 7.5 0a3.75 3.75 0 1 0 -7.5 0M535.85 244.25a3.75 3.75 0 1 0 7.5 0a3.75 3.75 0 1 0 -7.5 0M539.40 244.22a3.75 3.75 0 1 0 7.5 0a3.75 3.75 0 1 0 -7.5 0M542.96 244.19a3.75 3.75 0 1 0 7.5 0a3.75 3.75 0 1 0 -7.5 0M546.51 244.17a3.75 3.75 0 1 0 7.5 0a3.75 3.75 0 1 0 -7.5 0M550.07 244.14a3.75 3.75 0 1 0 7.5 0a3.75 3.75 0 1 0 -7.5 0M553.62 244.10a3.75 3.75 0 1 0 7.5 0a3.75 3.75 0 1 0 -7.5 0M557.18 244.07a3.75 3.75 0 1 0 7.5 0a3.75 3.75 0 1 0 -7.5 0M560.73 244.03a3.75 3.75 0 1 0 7.5 0a3.75 3.75 0 1 0 -7.5 0M564.29 243.98a3.75 3.75 0 1 0 7.5 0a3.75 3.75 0 1 0 -7.5 0M567.84 243.93a3.75 3.75 0 1 0 7.5 0a3.75 3.75 0 1 0 -7.5 0M571.40 243.88a3.75 3.75 0 1 0 7.5 0a3.75 3.75 0 1 0 -7.5 0M574.95 243.83a3.75 3.75 0 1 0 7.5 0a3.75 3.75 0 1 0 -7.5 0M578.51 243.77a3.75 3.75 0 1 0 7.5 0a3.75 3.75 0 1 0 -7.5 0M582.06 243.71a3.75 3.75 0 1 0 7.5 0a3.75 3.75 0 1 0 -7.5 0M585.62 243.65a3.75 3.75 0 1 0 7.5 0a3.75 3.75 0 1 0 -7.5 0M589.17 243.58a3.75 3.75 0 1 0 7.5 0a3.75 3.75 0 1 0 -7.5 0M592.73 243.52a3.75 3.75 0 1 0 7.5 0a3.75 3.75 0 1 0 -7.5 0M596.28 243.45a3.75 3.75 0 1 0 7.5 0a3.75 3.75 0 1 0 -7.5 0M599.84 243.38a3.75 3.75 0 1 0 7.5 0a3.75 3.75 0 1 0 -7.5 0M603.39 243.31a3.75 3.75 0 1 0 7.5 0a3.75 3.75 0 1 0 -7.5 0" fill="#7030a0"/>
<path d="M440.1 242.5V244.5M437.4 242.5h5.4M437.4 244.5h5.4M443.6 242.5V244.5M440.9 242.5h5.4M440.9 244.5h5.4M447.2 242.5V244.5M444.5 242.5h5.4M444.5 244.5h5.4M450.7 242.5V244.5M448.0 242.5h5.4M448.0 244.5h5.4M454.3 242.5V244.5M451.6 242.5h5.4M451.6 244.5h5.4M457.8 242.5V244.5M455.1 242.5h5.4M455.1 244.5h5.4M461.4 242.5V244.5M458.7 242.5h5.4M458.7 244.5h5.4M464.9 242.5V244.5M462.2 242.5h5.4M462.2 244.5h5.4M468.5 242.5V244.5M465.8 242.5h5.4M465.8 244.5h5.4M472.1 242.5V244.5M469.4 242.5h5.4M469.4 244.5h5.4M475.6 242.5V244.5M472.9 242.5h5.4M472.9 244.5h5.4M479.2 242.5V244.5M476.5 242.5h5.4M476.5 244.5h5.4M482.7 242.5V244.5M480.0 242.5h5.4M480.0 244.5h5.4M486.3 242.5V244.5M483.6 242.5h5.4M483.6 244.5h5.4M489.8 242.5V244.5M487.1 242.5h5.4M487.1 244.5h5.4M493.4 242.5V244.5M490.7 242.5h5.4M490.7 244.5h5.4M496.9 242.5V244.5M494.2 242.5h5.4M494.2 244.5h5.4M500.5 242.5V244.5M497.8 242.5h5.4M497.8 244.5h5.4M504.1 242.5V244.5M501.4 242.5h5.4M501.4 244.5h5.4M507.6 242.5V244.5M504.9 242.5h5.4M504.9 244.5h5.4M511.2 242.5V244.5M508.5 242.5h5.4M508.5 244.5h5.4M514.7 242.5V244.5M512.0 242.5h5.4M512.0 244.5h5.4M518.3 242.5V244.5M515.6 242.5h5.4M515.6 244.5h5.4M521.8 242.5V244.5M519.1 242.5h5.4M519.1 244.5h5.4M525.4 242.5V244.5M522.7 242.5h5.4M522.7 244.5h5.4M528.9 242.5V244.5M526.2 242.5h5.4M526.2 244.5h5.4M532.5 242.5V244.5M529.8 242.5h5.4M529.8 244.5h5.4M536.0 242.5V244.5M533.3 242.5h5.4M533.3 244.5h5.4M539.6 242.5V244.5M536.9 242.5h5.4M536.9 244.5h5.4M543.2 242.5V244.5M540.5 242.5h5.4M540.5 244.5h5.4M546.7 242.5V244.5M544.0 242.5h5.4M544.0 244.5h5.4M550.3 242.5V244.5M547.6 242.5h5.4M547.6 244.5h5.4M553.8 242.5V244.5M551.1 242.5h5.4M551.1 244.5h5.4M557.4 242.5V244.5M554.7 242.5h5.4M554.7 244.5h5.4M560.9 242.5V244.5M558.2 242.5h5.4M558.2 244.5h5.4M564.5 242.5V244.5M561.8 242.5h5.4M561.8 244.5h5.4M568.0 242.5V244.5M565.3 242.5h5.4M565.3 244.5h5.4M571.6 242.5V244.5M568.9 242.5h5.4M568.9 244.5h5.4M575.1 242.5V244.5M572.4 242.5h5.4M572.4 244.5h5.4M578.7 242.5V244.5M576.0 242.5h5.4M576.0 244.5h5.4M582.3 242.5V244.5M579.6 242.5h5.4M579.6 244.5h5.4M585.8 242.5V244.5M583.1 242.5h5.4M583.1 244.5h5.4M589.4 242.5V244.5M586.7 242.5h5.4M586.7 244.5h5.4M592.9 242.5V244.5M590.2 242.5h5.4M590.2 244.5h5.4M596.5 242.5V244.5M593.8 242.5h5.4M593.8 244.5h5.4M600.0 242.5V244.5M597.3 242.5h5.4M597.3 244.5h5.4M603.6 242.5V244.5M600.9 242.5h5.4M600.9 244.5h5.4M607.1 242.5V244.5M604.4 242.5h5.4M604.4 244.5h5.4" stroke="#6a6a6a" stroke-width="1" fill="none"/>
<path d="M440.1 243.6 L443.6 243.6 L447.2 243.6 L450.7 243.6 L454.3 243.7 L457.8 243.7 L461.4 243.7 L464.9 243.7 L468.5 243.7 L472.1 243.7 L475.6 243.7 L479.2 243.7 L482.7 243.7 L486.3 243.7 L489.8 243.7 L493.4 243.7 L496.9 243.7 L500.5 243.7 L504.1 243.7 L507.6 243.7 L511.2 243.7 L514.7 243.7 L518.3 243.7 L521.8 243.7 L525.4 243.7 L528.9 243.7 L532.5 243.7 L536.0 243.7 L539.6 243.7 L543.2 243.7 L546.7 243.7 L550.3 243.7 L553.8 243.7 L557.4 243.7 L560.9 243.7 L564.5 243.7 L568.0 243.7 L571.6 243.7 L575.1 243.7 L578.7 243.7 L582.3 243.7 L585.8 243.7 L589.4 243.7 L592.9 243.7 L596.5 243.7 L600.0 243.7 L603.6 243.7 L607.1 243.7" stroke="#70ad47" stroke-width="2.2" fill="none"/>
<path d="M436.31 243.60a3.75 3.75 0 1 0 7.5 0a3.75 3.75 0 1 0 -7.5 0M439.87 243.61a3.75 3.75 0 1 0 7.5 0a3.75 3.75 0 1 0 -7.5 0M443.42 243.62a3.75 3.75 0 1 0 7.5 0a3.75 3.75 0 1 0 -7.5 0M446.98 243.64a3.75 3.75 0 1 0 7.5 0a3.75 3.75 0 1 0 -7.5 0M450.53 243.65a3.75 3.75 0 1 0 7.5 0a3.75 3.75 0 1 0 -7.5 0M454.09 243.66a3.75 3.75 0 1 0 7.5 0a3.75 3.75 0 1 0 -7.5 0M457.64 243.68a3.75 3.75 0 1 0 7.5 0a3.75 3.75 0 1 0 -7.5 0M461.20 243.69a3.75 3.75 0 1 0 7.5 0a3.75 3.75 0 1 0 -7.5 0M464.75 243.70a3.75 3.75 0 1 0 7.5 0a3.75 3.75 0 1 0 -7.5 0M468.31 243.71a3.75 3.75 0 1 0 7.5 0a3.75 3.75 0 1 0 -7.5 0M471.86 243.72a3.75 3.75 0 1 0 7.5 0a3.75 3.75 0 1 0 -7.5 0M475.42 243.73a3.75 3.75 0 1 0 7.5 0a3.75 3.75 0 1 0 -7.5 0M478.97 243.73a3.75 3.75 0 1 0 7.5 0a3.75 3.75 0 1 0 -7.5 0M482.53 243.74a3.75 3.75 0 1 0 7.5 0a3.75 3.75 0 1 0 -7.5 0M486.08 243.74a3.75 3.75 0 1 0 7.5 0a3.75 3.75 0 1 0 -7.5 0M489.64 243.74a3.75 3.75 0 1 0 7.5 0a3.75 3.75 0 1 0 -7.5 0M493.19 243.74a3.75 3.75 0 1 0 7.5 0a3.75 3.75 0 1 0 -7.5 0M496.75 243.74a3.75 3.75 0 1 0 7.5 0a3.75 3.75 0 1 0 -7.5 0M500.30 243.74a3.75 3.75 0 1 0 7.5 0a3.75 3.75 0 1 0 -7.5 0M503.86 243.74a3.75 3.75 0 1 0 7.5 0a3.75 3.75 0 1 0 -7.5 0M507.41 243.74a3.75 3.75 0 1 0 7.5 0a3.75 3.75 0 1 0 -7.5 0M510.96 243.74a3.75 3.75 0 1 0 7.5 0a3.75 3.75 0 1 0 -7.5 0M514.52 243.74a3.75 3.75 0 1 0 7.5 0a3.75 3.75 0 1 0 -7.5 0M518.07 243.74a3.75 3.75 0 1 0 7.5 0a3.75 3.75 0 1 0 -7.5 0M521.63 243.74a3.75 3.75 0 1 0 7.5 0a3.75 3.75 0 1 0 -7.5 0M525.18 243.74a3.75 3.75 0 1 0 7.5 0a3.75 3.75 0 1 0 -7.5 0M528.74 243.74a3.75 3.75 0 1 0 7.5 0a3.75 3.75 0 1 0 -7.5 0M532.29 243.74a3.75 3.75 0 1 0 7.5 0a3.75 3.75 0 1 0 -7.5 0M535.85 243.74a3.75 3.75 0 1 0 7.5 0a3.75 3.75 0 1 0 -7.5 0M539.40 243.74a3.75 3.75 0 1 0 7.5 0a3.75 3.75 0 1 0 -7.5 0M542.96 243.74a3.75 3.75 0 1 0 7.5 0a3.75 3.75 0 1 0 -7.5 0M546.51 243.74a3.75 3.75 0 1 0 7.5 0a3.75 3.75 0 1 0 -7.5 0M550.07 243.74a3.75 3.75 0 1 0 7.5 0a3.75 3.75 0 1 0 -7.5 0M553.62 243.74a3.75 3.75 0 1 0 7.5 0a3.75 3.75 0 1 0 -7.5 0M557.18 243.74a3.75 3.75 0 1 0 7.5 0a3.75 3.75 0 1 0 -7.5 0M560.73 243.74a3.75 3.75 0 1 0 7.5 0a3.75 3.75 0 1 0 -7.5 0M564.29 243.74a3.75 3.75 0 1 0 7.5 0a3.75 3.75 0 1 0 -7.5 0M567.84 243.74a3.75 3.75 0 1 0 7.5 0a3.75 3.75 0 1 0 -7.5 0M571.40 243.74a3.75 3.75 0 1 0 7.5 0a3.75 3.75 0 1 0 -7.5 0M574.95 243.74a3.75 3.75 0 1 0 7.5 0a3.75 3.75 0 1 0 -7.5 0M578.51 243.74a3.75 3.75 0 1 0 7.5 0a3.75 3.75 0 1 0 -7.5 0M582.06 243.74a3.75 3.75 0 1 0 7.5 0a3.75 3.75 0 1 0 -7.5 0M585.62 243.74a3.75 3.75 0 1 0 7.5 0a3.75 3.75 0 1 0 -7.5 0M589.17 243.74a3.75 3.75 0 1 0 7.5 0a3.75 3.75 0 1 0 -7.5 0M592.73 243.74a3.75 3.75 0 1 0 7.5 0a3.75 3.75 0 1 0 -7.5 0M596.28 243.74a3.75 3.75 0 1 0 7.5 0a3.75 3.75 0 1 0 -7.5 0M599.84 243.74a3.75 3.75 0 1 0 7.5 0a3.75 3.75 0 1 0 -7.5 0M603.39 243.74a3.75 3.75 0 1 0 7.5 0a3.75 3.75 0 1 0 -7.5 0" fill="#70ad47"/>
</g>
<text x="647.7" y="49.2" class="mm" textLength="23.2" lengthAdjust="spacingAndGlyphs">mM</text>
<line x1="636.5" y1="74.80" x2="661.5" y2="74.80" stroke="#5b9bd5" stroke-width="2"/>
<circle cx="648.8" cy="74.80" r="3.5" fill="#5b9bd5"/>
<text transform="translate(663.10,80.40) scale(0.9,1)" class="lg">0</text>
<line x1="636.5" y1="105.55" x2="661.5" y2="105.55" stroke="#ffc000" stroke-width="2"/>
<circle cx="648.8" cy="105.55" r="3.5" fill="#ffc000"/>
<text transform="translate(663.10,111.15) scale(0.9,1)" class="lg">0.1</text>
<line x1="636.5" y1="136.30" x2="661.5" y2="136.30" stroke="#ed7d31" stroke-width="2"/>
<circle cx="648.8" cy="136.30" r="3.5" fill="#ed7d31"/>
<text transform="translate(663.10,141.90) scale(0.9,1)" class="lg">0.2</text>
<line x1="636.5" y1="167.05" x2="661.5" y2="167.05" stroke="#c00000" stroke-width="2"/>
<circle cx="648.8" cy="167.05" r="3.5" fill="#c00000"/>
<text transform="translate(663.10,172.65) scale(0.9,1)" class="lg">0.5</text>
<line x1="636.5" y1="197.80" x2="661.5" y2="197.80" stroke="#7030a0" stroke-width="2"/>
<circle cx="648.8" cy="197.80" r="3.5" fill="#7030a0"/>
<text transform="translate(663.10,203.40) scale(0.9,1)" class="lg">1</text>
<line x1="636.5" y1="228.55" x2="661.5" y2="228.55" stroke="#70ad47" stroke-width="2"/>
<circle cx="648.8" cy="228.55" r="3.5" fill="#70ad47"/>
<text transform="translate(663.10,234.15) scale(0.9,1)" class="lg">5</text>
<text x="481.3" y="316.3" class="tt" textLength="86.7" lengthAdjust="spacingAndGlyphs">Time (hours)</text>
<text transform="translate(376.3,237.1) rotate(-90)" class="tt" textLength="158.5" lengthAdjust="spacingAndGlyphs">Growth (OD wideband)</text>
</svg></body></html>
